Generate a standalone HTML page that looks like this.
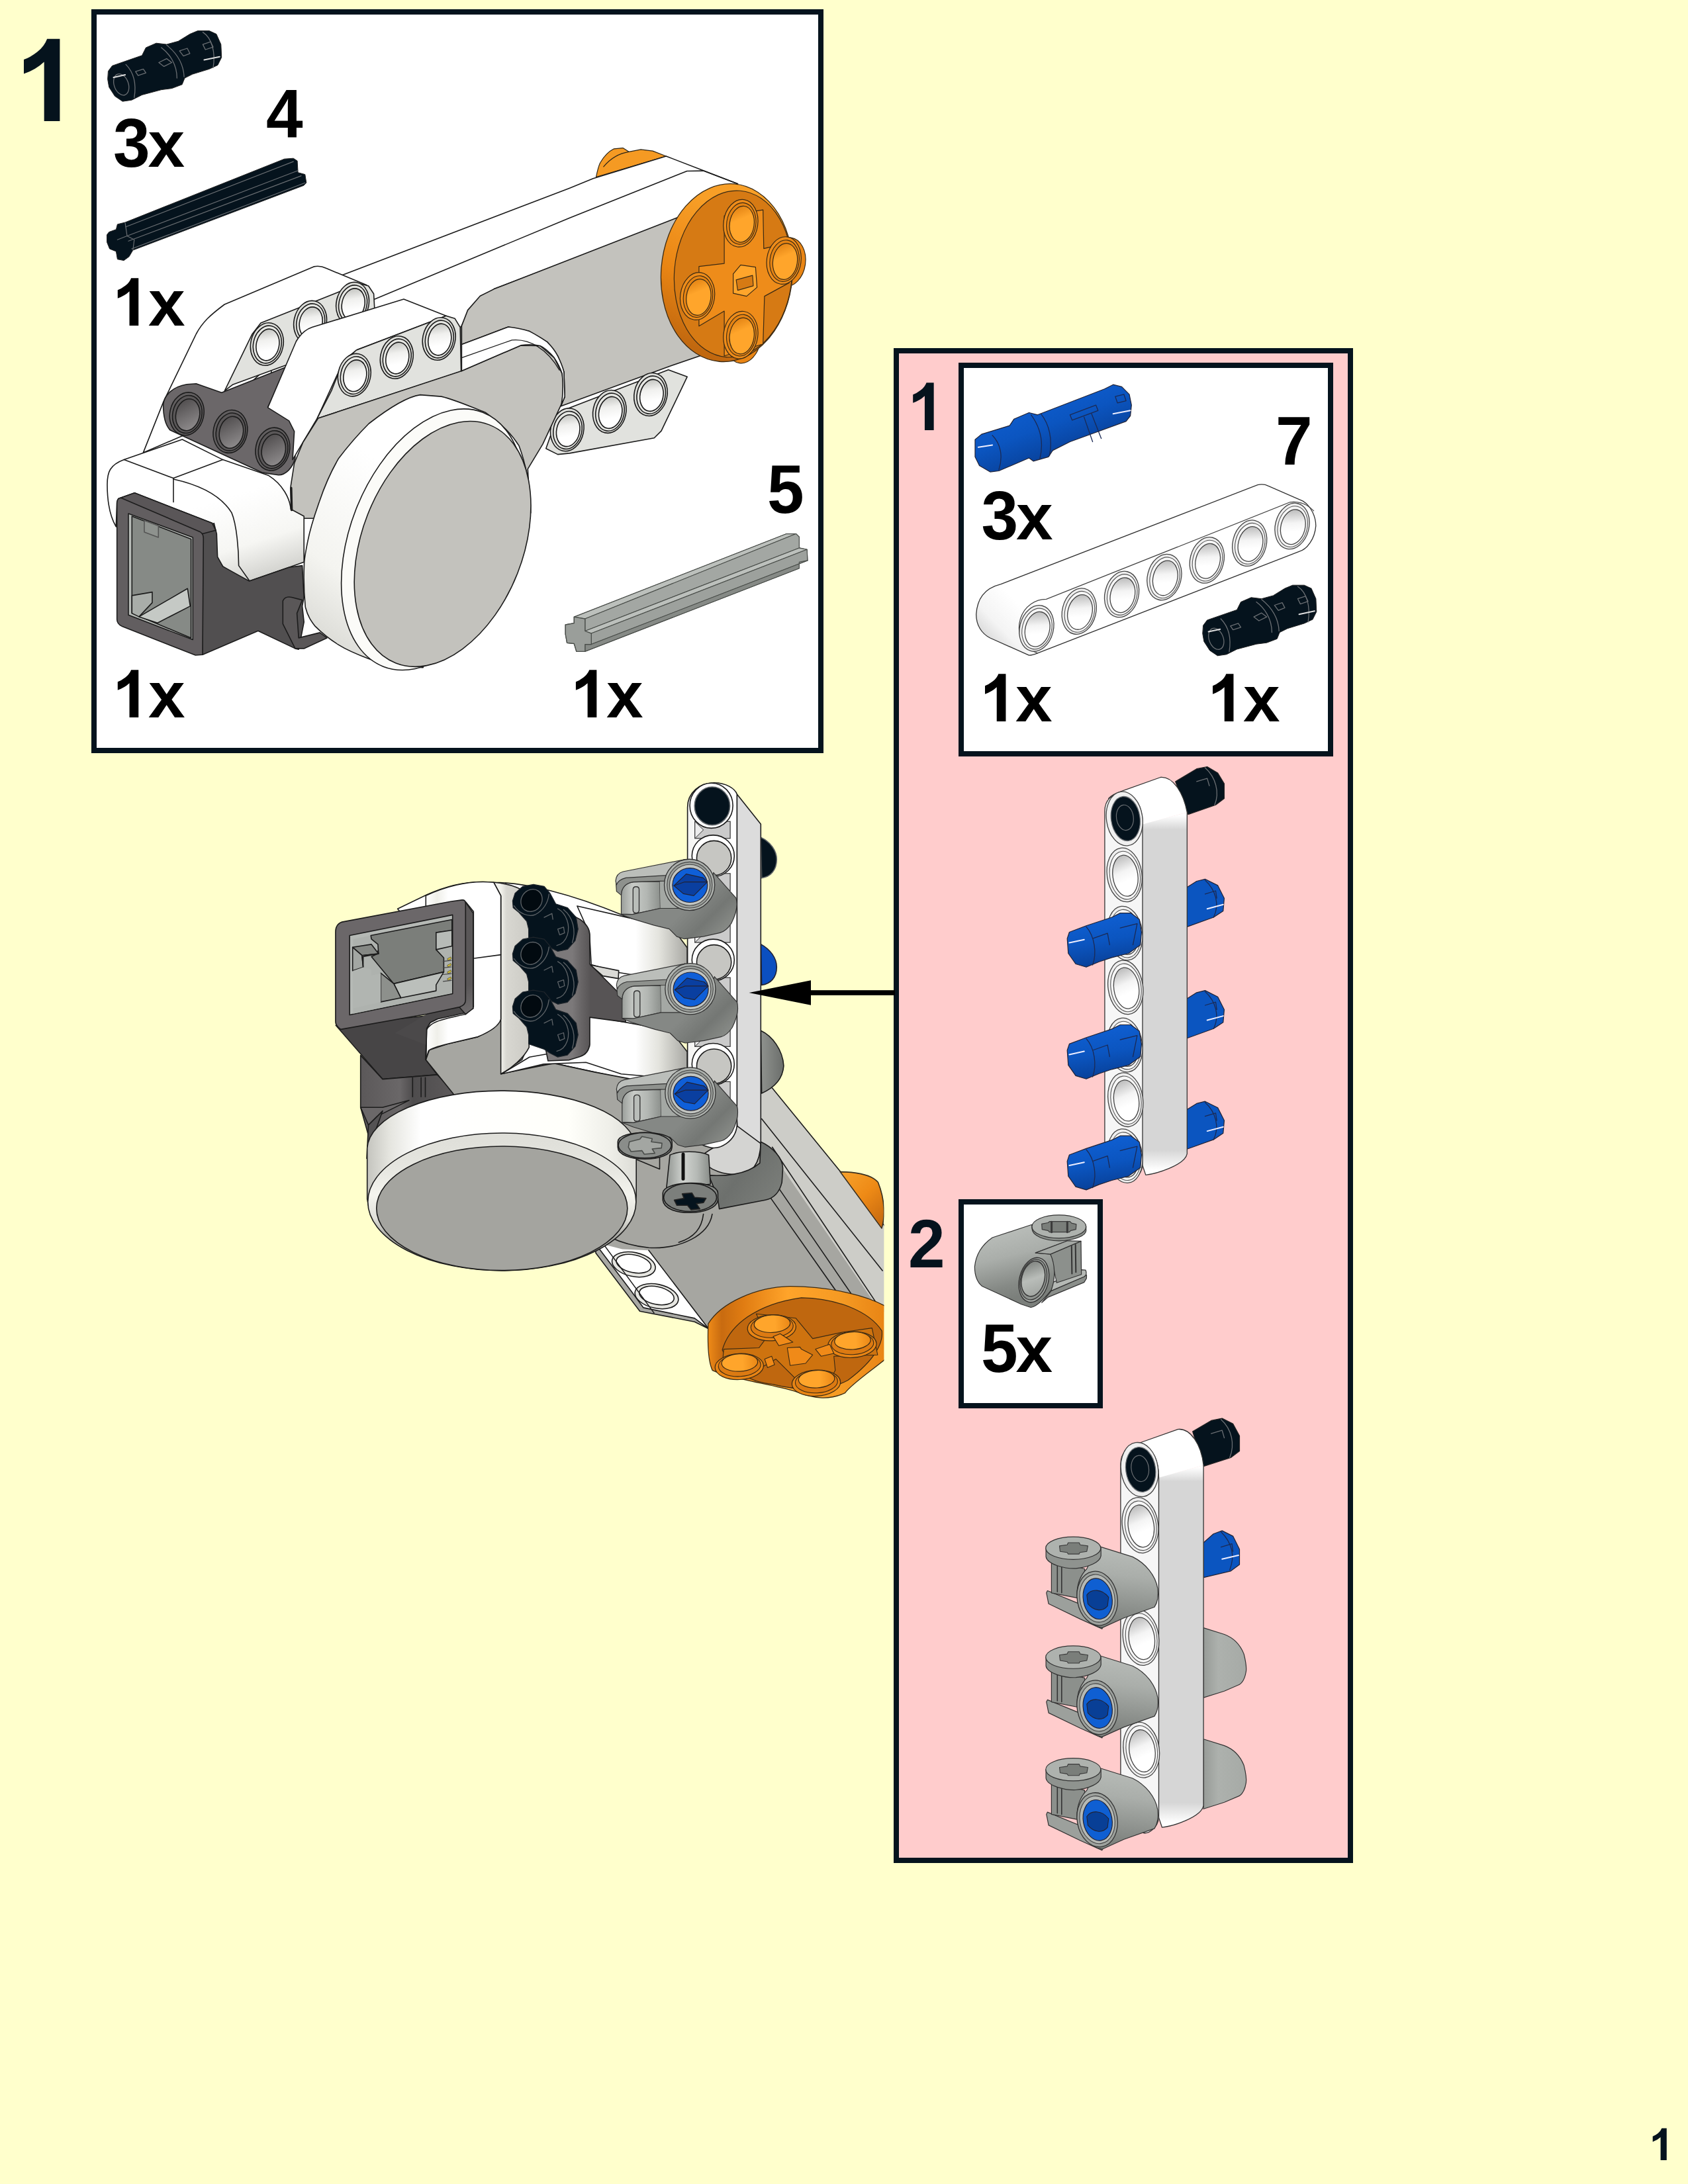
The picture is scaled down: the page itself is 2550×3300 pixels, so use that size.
<!DOCTYPE html>
<html><head><meta charset="utf-8">
<style>
html,body{margin:0;padding:0;background:#FFFFCC;}
svg{display:block}
text{font-family:"Liberation Sans",sans-serif;font-weight:bold}
</style></head><body>
<svg width="2550" height="3300" viewBox="0 0 2550 3300">
<defs>
<linearGradient id="cl2" gradientUnits="userSpaceOnUse" x1="544.7" y1="1300" x2="676.6" y2="1300"><stop offset="0" stop-color="#5B5859"/><stop offset="0.45" stop-color="#6A6768"/><stop offset="0.6" stop-color="#4E4C4D"/><stop offset="1" stop-color="#5B5859"/></linearGradient>
<linearGradient id="knob" gradientUnits="userSpaceOnUse" x1="1273.2" y1="1773.3" x2="1337.2" y2="1839.9"><stop offset="0" stop-color="#F6A02A"/><stop offset="0.5" stop-color="#EE8A16"/><stop offset="1" stop-color="#C96C10"/></linearGradient>
<linearGradient id="hubside" gradientUnits="userSpaceOnUse" x1="1068.8" y1="1900" x2="1338.6" y2="1900"><stop offset="0" stop-color="#F08C18"/><stop offset="0.08" stop-color="#C86B10"/><stop offset="0.2" stop-color="#E07C12"/><stop offset="0.45" stop-color="#FFA42A"/><stop offset="0.75" stop-color="#F59A23"/><stop offset="1" stop-color="#E88414"/></linearGradient>
<linearGradient id="hs590470" gradientUnits="userSpaceOnUse" x1="1140.2" y1="2000.2" x2="1191.4" y2="2000.2"><stop offset="0" stop-color="#FFA52B"/><stop offset="0.6" stop-color="#FFA52B"/><stop offset="1" stop-color="#EC8A18"/></linearGradient>
<linearGradient id="hs1160590" gradientUnits="userSpaceOnUse" x1="1261.8" y1="2025.8" x2="1313" y2="2025.8"><stop offset="0" stop-color="#FFA52B"/><stop offset="0.6" stop-color="#FFA52B"/><stop offset="1" stop-color="#EC8A18"/></linearGradient>
<linearGradient id="hs360745" gradientUnits="userSpaceOnUse" x1="1091.2" y1="2058.9" x2="1142.4" y2="2058.9"><stop offset="0" stop-color="#FFA52B"/><stop offset="0.6" stop-color="#FFA52B"/><stop offset="1" stop-color="#EC8A18"/></linearGradient>
<linearGradient id="hs905862" gradientUnits="userSpaceOnUse" x1="1207.4" y1="2083.8" x2="1258.6" y2="2083.8"><stop offset="0" stop-color="#FFA52B"/><stop offset="0.6" stop-color="#FFA52B"/><stop offset="1" stop-color="#EC8A18"/></linearGradient>
<linearGradient id="cylg" gradientUnits="userSpaceOnUse" x1="554.7" y1="1620" x2="961.2" y2="1620"><stop offset="0" stop-color="#C4C4BE"/><stop offset="0.08" stop-color="#E4E4DE"/><stop offset="0.2" stop-color="#FFFFFF"/><stop offset="0.75" stop-color="#FFFFFA"/><stop offset="0.9" stop-color="#EFEFE9"/><stop offset="1" stop-color="#DCDCD6"/></linearGradient>
<linearGradient id="rimg" gradientUnits="userSpaceOnUse" x1="540" y1="1712" x2="540" y2="1919.9"><stop offset="0" stop-color="#DEDED8"/><stop offset="0.25" stop-color="#E6E6E0"/><stop offset="0.45" stop-color="#F4F4EE"/><stop offset="0.62" stop-color="#E0E0DA"/><stop offset="0.75" stop-color="#A8A8A3"/><stop offset="1" stop-color="#A6A6A1"/></linearGradient>
<linearGradient id="wbside" gradientUnits="userSpaceOnUse" x1="756.6" y1="1300" x2="799.2" y2="1300"><stop offset="0" stop-color="#F2F2EC"/><stop offset="0.2" stop-color="#D8D7D1"/><stop offset="1" stop-color="#CCCBC5"/></linearGradient>
<linearGradient id="wbfront" gradientUnits="userSpaceOnUse" x1="643.3" y1="1300" x2="756.6" y2="1300"><stop offset="0" stop-color="#FFFFFF"/><stop offset="0.15" stop-color="#EFEFE9"/><stop offset="0.3" stop-color="#FFFFFF"/><stop offset="1" stop-color="#FFFFFF"/></linearGradient>
<linearGradient id="arm1" gradientUnits="userSpaceOnUse" x1="959.9" y1="1160" x2="1037.2" y2="1160"><stop offset="0" stop-color="#FFFFFF"/><stop offset="0.45" stop-color="#E4E4DE"/><stop offset="1" stop-color="#A9A9A4"/></linearGradient>
<linearGradient id="arm2" gradientUnits="userSpaceOnUse" x1="959.9" y1="1160" x2="1037.2" y2="1160"><stop offset="0" stop-color="#FFFFFF"/><stop offset="0.45" stop-color="#E4E4DE"/><stop offset="1" stop-color="#A9A9A4"/></linearGradient>
<linearGradient id="dbm" gradientUnits="userSpaceOnUse" x1="864.5" y1="1310" x2="892.4" y2="1310"><stop offset="0" stop-color="#7C797A"/><stop offset="0.4" stop-color="#6B6869"/><stop offset="1" stop-color="#575455"/></linearGradient>
<linearGradient id="cfs" gradientUnits="userSpaceOnUse" x1="703.3" y1="1490" x2="714.8" y2="1525.5"><stop offset="0" stop-color="#5A5758"/><stop offset="1" stop-color="#6E6B6C"/></linearGradient>
<linearGradient id="prot" gradientUnits="userSpaceOnUse" x1="1149.3" y1="1160" x2="1183.9" y2="1160"><stop offset="0" stop-color="#8F928E"/><stop offset="1" stop-color="#6B6E6B"/></linearGradient>
<linearGradient id="b7f" gradientUnits="userSpaceOnUse" x1="1038.6" y1="1160" x2="1113.3" y2="1160"><stop offset="0" stop-color="#F4F4F2"/><stop offset="0.5" stop-color="#FFFFFF"/><stop offset="1" stop-color="#FFFFFF"/></linearGradient>
<linearGradient id="cna0_0" gradientUnits="userSpaceOnUse" x1="938.5" y1="1290" x2="997.5" y2="1290"><stop offset="0" stop-color="#9A9E9A"/><stop offset="0.3" stop-color="#C8CBC7"/><stop offset="0.65" stop-color="#B3B7B3"/><stop offset="1" stop-color="#8C908C"/></linearGradient>
<linearGradient id="cnb0_0" gradientUnits="userSpaceOnUse" x1="1048" y1="1361.1" x2="1097.7" y2="1410.9"><stop offset="0" stop-color="#858885"/><stop offset="0.5" stop-color="#747774"/><stop offset="1" stop-color="#8B8E8A"/></linearGradient>
<linearGradient id="cna5_590" gradientUnits="userSpaceOnUse" x1="939.8" y1="1290" x2="998.8" y2="1290"><stop offset="0" stop-color="#9A9E9A"/><stop offset="0.3" stop-color="#C8CBC7"/><stop offset="0.65" stop-color="#B3B7B3"/><stop offset="1" stop-color="#8C908C"/></linearGradient>
<linearGradient id="cnb5_590" gradientUnits="userSpaceOnUse" x1="1049.3" y1="1518.4" x2="1099.1" y2="1568.1"><stop offset="0" stop-color="#858885"/><stop offset="0.5" stop-color="#747774"/><stop offset="1" stop-color="#8B8E8A"/></linearGradient>
<linearGradient id="cna5_1180" gradientUnits="userSpaceOnUse" x1="939.8" y1="1290" x2="998.8" y2="1290"><stop offset="0" stop-color="#9A9E9A"/><stop offset="0.3" stop-color="#C8CBC7"/><stop offset="0.65" stop-color="#B3B7B3"/><stop offset="1" stop-color="#8C908C"/></linearGradient>
<linearGradient id="cnb5_1180" gradientUnits="userSpaceOnUse" x1="1049.3" y1="1675.7" x2="1099.1" y2="1725.4"><stop offset="0" stop-color="#858885"/><stop offset="0.5" stop-color="#747774"/><stop offset="1" stop-color="#8B8E8A"/></linearGradient>
<linearGradient id="c5b" gradientUnits="userSpaceOnUse" x1="1070.6" y1="1738.6" x2="1166.6" y2="1813.3"><stop offset="0" stop-color="#7E817D"/><stop offset="0.5" stop-color="#6D706D"/><stop offset="1" stop-color="#7A7D79"/></linearGradient>
<linearGradient id="c5c" gradientUnits="userSpaceOnUse" x1="1012" y1="1600" x2="1070.6" y2="1600"><stop offset="0" stop-color="#9EA29E"/><stop offset="0.35" stop-color="#D0D3CF"/><stop offset="0.7" stop-color="#B5B9B5"/><stop offset="1" stop-color="#8E928E"/></linearGradient>
<linearGradient id="phs" gradientUnits="userSpaceOnUse" x1="1017.6" y1="515.2" x2="1085.1" y2="312.6"><stop offset="0" stop-color="#C1680F"/><stop offset="0.45" stop-color="#E98514"/><stop offset="1" stop-color="#F89F27"/></linearGradient>
<linearGradient id="st1150610" gradientUnits="userSpaceOnUse" x1="1105.4" y1="314.8" x2="1132.4" y2="359.8"><stop offset="0" stop-color="#E08012"/><stop offset="0.4" stop-color="#FFA52B"/><stop offset="1" stop-color="#FFA52B"/></linearGradient>
<linearGradient id="st1440860" gradientUnits="userSpaceOnUse" x1="1170.7" y1="371.1" x2="1197.7" y2="416.1"><stop offset="0" stop-color="#E08012"/><stop offset="0.4" stop-color="#FFA52B"/><stop offset="1" stop-color="#FFA52B"/></linearGradient>
<linearGradient id="st8601100" gradientUnits="userSpaceOnUse" x1="1040.1" y1="425.1" x2="1067.1" y2="470.1"><stop offset="0" stop-color="#E08012"/><stop offset="0.4" stop-color="#FFA52B"/><stop offset="1" stop-color="#FFA52B"/></linearGradient>
<linearGradient id="st11501360" gradientUnits="userSpaceOnUse" x1="1105.4" y1="483.6" x2="1132.4" y2="528.7"><stop offset="0" stop-color="#E08012"/><stop offset="0.4" stop-color="#FFA52B"/><stop offset="1" stop-color="#FFA52B"/></linearGradient>
<linearGradient id="hl610195" gradientUnits="userSpaceOnUse" x1="849.4" y1="626.4" x2="861.8" y2="659.1"><stop offset="0" stop-color="#BFC0BC"/><stop offset="0.5" stop-color="#F0F0EE"/><stop offset="1" stop-color="#FFFFFF"/></linearGradient>
<linearGradient id="hl790118" gradientUnits="userSpaceOnUse" x1="913.3" y1="599.1" x2="925.8" y2="631.8"><stop offset="0" stop-color="#BFC0BC"/><stop offset="0.5" stop-color="#F0F0EE"/><stop offset="1" stop-color="#FFFFFF"/></linearGradient>
<linearGradient id="hl96545" gradientUnits="userSpaceOnUse" x1="975.5" y1="573.1" x2="988" y2="605.8"><stop offset="0" stop-color="#BFC0BC"/><stop offset="0.5" stop-color="#F0F0EE"/><stop offset="1" stop-color="#FFFFFF"/></linearGradient>
<linearGradient id="hl275525" gradientUnits="userSpaceOnUse" x1="396" y1="497.2" x2="408.2" y2="529.7"><stop offset="0" stop-color="#BFC0BC"/><stop offset="0.5" stop-color="#F0F0EE"/><stop offset="1" stop-color="#FFFFFF"/></linearGradient>
<linearGradient id="hl520400" gradientUnits="userSpaceOnUse" x1="461.3" y1="463.9" x2="473.5" y2="496.4"><stop offset="0" stop-color="#BFC0BC"/><stop offset="0.5" stop-color="#F0F0EE"/><stop offset="1" stop-color="#FFFFFF"/></linearGradient>
<linearGradient id="hl760295" gradientUnits="userSpaceOnUse" x1="525.2" y1="435.9" x2="537.5" y2="468.4"><stop offset="0" stop-color="#BFC0BC"/><stop offset="0.5" stop-color="#F0F0EE"/><stop offset="1" stop-color="#FFFFFF"/></linearGradient>
<linearGradient id="hd400690" gradientUnits="userSpaceOnUse" x1="266.8" y1="608.9" x2="297.5" y2="644.9"><stop offset="0" stop-color="#4F4C4D"/><stop offset="0.5" stop-color="#6F6C6D"/><stop offset="1" stop-color="#8E8B8C"/></linearGradient>
<linearGradient id="hd585765" gradientUnits="userSpaceOnUse" x1="332.6" y1="635.6" x2="363.3" y2="671.5"><stop offset="0" stop-color="#4F4C4D"/><stop offset="0.5" stop-color="#6F6C6D"/><stop offset="1" stop-color="#8E8B8C"/></linearGradient>
<linearGradient id="hd765840" gradientUnits="userSpaceOnUse" x1="396.6" y1="662.2" x2="427.3" y2="698.2"><stop offset="0" stop-color="#4F4C4D"/><stop offset="0.5" stop-color="#6F6C6D"/><stop offset="1" stop-color="#8E8B8C"/></linearGradient>
<linearGradient id="hl770700" gradientUnits="userSpaceOnUse" x1="527.9" y1="543.8" x2="540.2" y2="576.4"><stop offset="0" stop-color="#BFC0BC"/><stop offset="0.5" stop-color="#F0F0EE"/><stop offset="1" stop-color="#FFFFFF"/></linearGradient>
<linearGradient id="hl1010600" gradientUnits="userSpaceOnUse" x1="591.9" y1="517.2" x2="604.2" y2="549.7"><stop offset="0" stop-color="#BFC0BC"/><stop offset="0.5" stop-color="#F0F0EE"/><stop offset="1" stop-color="#FFFFFF"/></linearGradient>
<linearGradient id="hl1250495" gradientUnits="userSpaceOnUse" x1="655.9" y1="489.2" x2="668.1" y2="521.7"><stop offset="0" stop-color="#BFC0BC"/><stop offset="0.5" stop-color="#F0F0EE"/><stop offset="1" stop-color="#FFFFFF"/></linearGradient>
<linearGradient id="shell" gradientUnits="userSpaceOnUse" x1="336.6" y1="753.3" x2="376.6" y2="875.9"><stop offset="0" stop-color="#FFFFFF"/><stop offset="0.6" stop-color="#F6F6F3"/><stop offset="1" stop-color="#D4D4D0"/></linearGradient>
<linearGradient id="pdrum" gradientUnits="userSpaceOnUse" x1="461.3" y1="942.1" x2="617.7" y2="728.8"><stop offset="0" stop-color="#DDDDD8"/><stop offset="0.35" stop-color="#F4F4F0"/><stop offset="1" stop-color="#FFFFFF"/></linearGradient>
<linearGradient id="bp1" gradientUnits="userSpaceOnUse" x1="1557.7" y1="592.6" x2="1596.8" y2="696.8"><stop offset="0" stop-color="#0F5FD2"/><stop offset="0.5" stop-color="#0B55C0"/><stop offset="1" stop-color="#083F96"/></linearGradient>
<linearGradient id="b7p" gradientUnits="userSpaceOnUse" x1="1479.5" y1="980.3" x2="1544.7" y2="918.4"><stop offset="0" stop-color="#C9C9C9"/><stop offset="0.5" stop-color="#F4F4F4"/><stop offset="1" stop-color="#FFFFFF"/></linearGradient>
<linearGradient id="rg3251195" gradientUnits="userSpaceOnUse" x1="1563.4" y1="924.7" x2="1573.5" y2="956.4"><stop offset="0" stop-color="#BDBDBD"/><stop offset="0.6" stop-color="#F4F4F4"/><stop offset="1" stop-color="#FFFFFF"/></linearGradient>
<linearGradient id="rg5221116" gradientUnits="userSpaceOnUse" x1="1627.7" y1="899" x2="1637.9" y2="930.7"><stop offset="0" stop-color="#BDBDBD"/><stop offset="0.6" stop-color="#F4F4F4"/><stop offset="1" stop-color="#FFFFFF"/></linearGradient>
<linearGradient id="rg7201037" gradientUnits="userSpaceOnUse" x1="1692.1" y1="873.3" x2="1702.2" y2="904.9"><stop offset="0" stop-color="#BDBDBD"/><stop offset="0.6" stop-color="#F4F4F4"/><stop offset="1" stop-color="#FFFFFF"/></linearGradient>
<linearGradient id="rg917958" gradientUnits="userSpaceOnUse" x1="1756.4" y1="847.5" x2="1766.6" y2="879.2"><stop offset="0" stop-color="#BDBDBD"/><stop offset="0.6" stop-color="#F4F4F4"/><stop offset="1" stop-color="#FFFFFF"/></linearGradient>
<linearGradient id="rg1115879" gradientUnits="userSpaceOnUse" x1="1820.8" y1="821.8" x2="1830.9" y2="853.4"><stop offset="0" stop-color="#BDBDBD"/><stop offset="0.6" stop-color="#F4F4F4"/><stop offset="1" stop-color="#FFFFFF"/></linearGradient>
<linearGradient id="rg1312800" gradientUnits="userSpaceOnUse" x1="1885.1" y1="796" x2="1895.3" y2="827.7"><stop offset="0" stop-color="#BDBDBD"/><stop offset="0.6" stop-color="#F4F4F4"/><stop offset="1" stop-color="#FFFFFF"/></linearGradient>
<linearGradient id="rg1510721" gradientUnits="userSpaceOnUse" x1="1949.5" y1="770.3" x2="1959.6" y2="802"><stop offset="0" stop-color="#BDBDBD"/><stop offset="0.6" stop-color="#F4F4F4"/><stop offset="1" stop-color="#FFFFFF"/></linearGradient>
<linearGradient id="cb1" gradientUnits="userSpaceOnUse" x1="1507.4" y1="1866.5" x2="1531.1" y2="1961.3"><stop offset="0" stop-color="#B7BBB7"/><stop offset="0.35" stop-color="#AAAEAA"/><stop offset="0.8" stop-color="#858985"/><stop offset="1" stop-color="#7B7F7B"/></linearGradient>
<linearGradient id="cbh" gradientUnits="userSpaceOnUse" x1="1550" y1="1913.9" x2="1573.7" y2="1949.4"><stop offset="0" stop-color="#8A8E8A"/><stop offset="0.5" stop-color="#B9BDB9"/><stop offset="1" stop-color="#A5A9A5"/></linearGradient>
<linearGradient id="bv1s" gradientUnits="userSpaceOnUse" x1="1500" y1="1174.5" x2="1500" y2="1780.3"><stop offset="0" stop-color="#FFFFFF"/><stop offset="0.095" stop-color="#FFFFFF"/><stop offset="0.13" stop-color="#D6D6D6"/><stop offset="0.93" stop-color="#D6D6D6"/><stop offset="0.98" stop-color="#FFFFFF"/><stop offset="1" stop-color="#FFFFFF"/></linearGradient>
<linearGradient id="rg620630" gradientUnits="userSpaceOnUse" x1="1696.1" y1="1293.2" x2="1706.6" y2="1330.1"><stop offset="0" stop-color="#BDBDBD"/><stop offset="0.6" stop-color="#F4F4F4"/><stop offset="1" stop-color="#FFFFFF"/></linearGradient>
<linearGradient id="rg6251160" gradientUnits="userSpaceOnUse" x1="1697.7" y1="1463.1" x2="1708.2" y2="1500"><stop offset="0" stop-color="#BDBDBD"/><stop offset="0.6" stop-color="#F4F4F4"/><stop offset="1" stop-color="#FFFFFF"/></linearGradient>
<linearGradient id="rg6251690" gradientUnits="userSpaceOnUse" x1="1697.7" y1="1632.9" x2="1708.2" y2="1669.9"><stop offset="0" stop-color="#BDBDBD"/><stop offset="0.6" stop-color="#F4F4F4"/><stop offset="1" stop-color="#FFFFFF"/></linearGradient>
<linearGradient id="rg622905" gradientUnits="userSpaceOnUse" x1="1696.7" y1="1381.3" x2="1707.2" y2="1418.3"><stop offset="0" stop-color="#BDBDBD"/><stop offset="0.6" stop-color="#F4F4F4"/><stop offset="1" stop-color="#FFFFFF"/></linearGradient>
<linearGradient id="bl0" gradientUnits="userSpaceOnUse" x1="1660.3" y1="1382.8" x2="1673.1" y2="1459.7"><stop offset="0" stop-color="#0F5FD2"/><stop offset="0.5" stop-color="#0B55C0"/><stop offset="1" stop-color="#083F96"/></linearGradient>
<linearGradient id="rg6221432" gradientUnits="userSpaceOnUse" x1="1696.7" y1="1550.3" x2="1707.2" y2="1587.2"><stop offset="0" stop-color="#BDBDBD"/><stop offset="0.6" stop-color="#F4F4F4"/><stop offset="1" stop-color="#FFFFFF"/></linearGradient>
<linearGradient id="bl527" gradientUnits="userSpaceOnUse" x1="1660.3" y1="1551.7" x2="1673.1" y2="1628.7"><stop offset="0" stop-color="#0F5FD2"/><stop offset="0.5" stop-color="#0B55C0"/><stop offset="1" stop-color="#083F96"/></linearGradient>
<linearGradient id="rg6221955" gradientUnits="userSpaceOnUse" x1="1696.7" y1="1717.9" x2="1707.2" y2="1754.8"><stop offset="0" stop-color="#BDBDBD"/><stop offset="0.6" stop-color="#F4F4F4"/><stop offset="1" stop-color="#FFFFFF"/></linearGradient>
<linearGradient id="bl1050" gradientUnits="userSpaceOnUse" x1="1660.3" y1="1719.4" x2="1673.1" y2="1796.3"><stop offset="0" stop-color="#0F5FD2"/><stop offset="0.5" stop-color="#0B55C0"/><stop offset="1" stop-color="#083F96"/></linearGradient>
<linearGradient id="cr0" gradientUnits="userSpaceOnUse" x1="1818.1" y1="2120" x2="1882.4" y2="2120"><stop offset="0" stop-color="#979B97"/><stop offset="0.35" stop-color="#ADB1AD"/><stop offset="1" stop-color="#A6AAA6"/></linearGradient>
<linearGradient id="cr510" gradientUnits="userSpaceOnUse" x1="1818.1" y1="2120" x2="1882.4" y2="2120"><stop offset="0" stop-color="#979B97"/><stop offset="0.35" stop-color="#ADB1AD"/><stop offset="1" stop-color="#A6AAA6"/></linearGradient>
<linearGradient id="bv2s" gradientUnits="userSpaceOnUse" x1="1500" y1="2159.6" x2="1500" y2="2766.2"><stop offset="0" stop-color="#FFFFFF"/><stop offset="0.095" stop-color="#FFFFFF"/><stop offset="0.13" stop-color="#D6D6D6"/><stop offset="0.93" stop-color="#D6D6D6"/><stop offset="0.98" stop-color="#FFFFFF"/><stop offset="1" stop-color="#FFFFFF"/></linearGradient>
<linearGradient id="rg675560" gradientUnits="userSpaceOnUse" x1="1719.8" y1="2275.1" x2="1730.6" y2="2313.1"><stop offset="0" stop-color="#BDBDBD"/><stop offset="0.6" stop-color="#F4F4F4"/><stop offset="1" stop-color="#FFFFFF"/></linearGradient>
<linearGradient id="rg6781075" gradientUnits="userSpaceOnUse" x1="1720.8" y1="2444.9" x2="1731.6" y2="2482.8"><stop offset="0" stop-color="#BDBDBD"/><stop offset="0.6" stop-color="#F4F4F4"/><stop offset="1" stop-color="#FFFFFF"/></linearGradient>
<linearGradient id="rg6801590" gradientUnits="userSpaceOnUse" x1="1721.5" y1="2614.6" x2="1732.3" y2="2652.6"><stop offset="0" stop-color="#BDBDBD"/><stop offset="0.6" stop-color="#F4F4F4"/><stop offset="1" stop-color="#FFFFFF"/></linearGradient>
<linearGradient id="cl0" gradientUnits="userSpaceOnUse" x1="1697.8" y1="2334.3" x2="1684.6" y2="2449.7"><stop offset="0" stop-color="#B9BDB9"/><stop offset="0.4" stop-color="#AAAEAA"/><stop offset="1" stop-color="#7E827E"/></linearGradient>
<linearGradient id="cl500" gradientUnits="userSpaceOnUse" x1="1697.8" y1="2499.1" x2="1684.6" y2="2614.5"><stop offset="0" stop-color="#B9BDB9"/><stop offset="0.4" stop-color="#AAAEAA"/><stop offset="1" stop-color="#7E827E"/></linearGradient>
<linearGradient id="cl1015" gradientUnits="userSpaceOnUse" x1="1697.8" y1="2668.9" x2="1684.6" y2="2784.3"><stop offset="0" stop-color="#B9BDB9"/><stop offset="0.4" stop-color="#AAAEAA"/><stop offset="1" stop-color="#7E827E"/></linearGradient>
</defs>
<rect width="2550" height="3300" fill="#FFFFCC"/>
<rect x="142" y="18" width="1098" height="1116" fill="#FFFFFF" stroke="#05131D" stroke-width="8"/>
<rect x="1354" y="530" width="686" height="2281" fill="#FFCCCC" stroke="#05131D" stroke-width="8"/>
<rect x="1452" y="552" width="558" height="587" fill="#FFFFFF" stroke="#05131D" stroke-width="8"/>
<rect x="1452" y="1816" width="210" height="308" fill="#FFFFFF" stroke="#05131D" stroke-width="8"/>
<clipPath id="clipMain"><rect x="495" y="1175" width="840.4" height="945"/></clipPath>
<g clip-path="url(#clipMain)">
<polygon points="507.3,1549.3 703.3,1528.7 715.3,1518.6 715.3,1522.6 703.3,1532.5 660.6,1541.3 644.6,1555.9 643.3,1601.2 660.6,1623.9 578,1630.6" fill="#474546" stroke="#1c1c1c" stroke-width="1.6" stroke-linejoin="round" />
<polygon points="544.7,1594.6 578,1630.6 660.6,1623.9 692.6,1657.2 623.3,1683.9 578,1699.9 556.6,1715.9 544.7,1673.2" fill="url(#cl2)" stroke="#1c1c1c" stroke-width="1.6" stroke-linejoin="round" />
<line x1="623.3" y1="1628.4" x2="623.3" y2="1657.2" stroke="#1c1c1c" stroke-width="1.6" stroke-linecap="round"/>
<line x1="636.1" y1="1628.4" x2="636.1" y2="1657.2" stroke="#1c1c1c" stroke-width="1.6" stroke-linecap="round"/>
<line x1="642.5" y1="1628.4" x2="642.5" y2="1657.2" stroke="#1c1c1c" stroke-width="1.6" stroke-linecap="round"/>
<polygon points="544.7,1673.2 578,1673.2 618,1662.6 570,1686.6 556.6,1699.9" fill="#6B6869" stroke="#1c1c1c" stroke-width="1.6" stroke-linejoin="round" />
<polygon points="556.6,1699.9 570,1686.6 578,1678.6 564.6,1715.9 554,1750.5" fill="#545253" stroke="#1c1c1c" stroke-width="1.6" stroke-linejoin="round" />
<polygon points="886.7,1866.6 980,1866.6 1086.6,2007.9 1070.6,2007.9 1049.3,1994.5 972,1978.6 953.3,1954.6 900,1890.6" fill="#FFFFFF" stroke="#1c1c1c" stroke-width="1.6" stroke-linejoin="round" />
<polygon points="900,1879.9 953.3,1950.6 972,1975.9 1049.3,1991.9 1070.6,2007.9 1049.3,1997.2 966.6,1981.2 900,1893.2" fill="#A9A9A4" stroke="#1c1c1c" stroke-width="1.6" stroke-linejoin="round" />
<ellipse cx="957.3" cy="1910.6" rx="33.32" ry="18.13" fill="#E6E6E1" stroke="#1c1c1c" stroke-width="1.6" transform="rotate(12 957.3 1910.6)" />
<ellipse cx="957.3" cy="1909.5" rx="26.66" ry="13.33" fill="#FFFFFF" stroke="#1c1c1c" stroke-width="1.6" transform="rotate(12 957.3 1909.5)" />
<ellipse cx="992" cy="1958.6" rx="33.32" ry="18.13" fill="#E6E6E1" stroke="#1c1c1c" stroke-width="1.6" transform="rotate(12 992 1958.6)" />
<ellipse cx="992" cy="1957.5" rx="26.66" ry="13.33" fill="#FFFFFF" stroke="#1c1c1c" stroke-width="1.6" transform="rotate(12 992 1957.5)" />
<line x1="910.7" y1="1878.6" x2="988" y2="1983.9" stroke="#1c1c1c" stroke-width="1.6" stroke-linecap="round"/>
<polygon points="900,1616 1166.6,1616 1166.6,1728 1326.5,1967.9 1315.9,1983.9 1070.6,2007.9 980,1889.2 940,1887.4 900,1877.3" fill="#A6A6A1" stroke="#1c1c1c" stroke-width="0" stroke-linejoin="round" />
<polygon points="1147.9,1650.7 1166.6,1644 1337.2,1851.9 1337.2,1983.9 1321.2,1969.2 1163.9,1738.6 1147.9,1728" fill="#CDCDC8" stroke="#1c1c1c" stroke-width="0" stroke-linejoin="round" />
<line x1="1166.6" y1="1644" x2="1337.2" y2="1853.3" stroke="#1c1c1c" stroke-width="1.6" stroke-linecap="round"/>
<line x1="1150.6" y1="1690.6" x2="1333.2" y2="1919.9" stroke="#1c1c1c" stroke-width="1.6" stroke-linecap="round"/>
<line x1="1166.6" y1="1733.3" x2="1322.5" y2="1966.6" stroke="#1c1c1c" stroke-width="1.6" stroke-linecap="round"/>
<line x1="1175.9" y1="1794.6" x2="1286.6" y2="1955.9" stroke="#1c1c1c" stroke-width="1.6" stroke-linecap="round"/>
<line x1="1162.6" y1="1807.9" x2="1273.2" y2="1965.2" stroke="#1c1c1c" stroke-width="1.6" stroke-linecap="round"/>
<line x1="980" y1="1889.2" x2="1070.6" y2="2007.9" stroke="#1c1c1c" stroke-width="1.6" stroke-linecap="round"/>
<path d="M 1075.9,1834.6 C 1070.6,1866.6 1028,1887.9 980,1885.2 C 953.3,1882.6 932,1874.6 921.3,1869.3" fill="none" stroke="#1c1c1c" stroke-width="1.6" stroke-linejoin="round" stroke-linecap="round" />
<path d="M 1062.6,1834.6 C 1060,1855.9 1049.3,1869.3 1025.3,1877.3" fill="none" stroke="#1c1c1c" stroke-width="1.6" stroke-linejoin="round" stroke-linecap="round" />
<path d="M 1269.2,1770.6 C 1286.6,1770.6 1315.9,1773.3 1326.5,1786.6 C 1337.2,1813.3 1337.2,1839.9 1331.9,1855.9 L 1269.2,1770.6 Z" fill="url(#knob)" stroke="#3a3020" stroke-width="1.6" stroke-linejoin="round" stroke-linecap="round" />
<path d="M 1069.9,2000.2 C 1089.1,1968.2 1142.4,1944.8 1193.6,1943.7 C 1253.3,1943.7 1313,1957.6 1342.8,1976.8 L 1342.8,2049.3 C 1317.3,2070.6 1285.3,2091.9 1276.7,2104.7 C 1253.3,2115.4 1231.9,2114.3 1202.1,2102.6 C 1168,2091.9 1104,2083.4 1076.3,2070.6 C 1069.9,2057.8 1068.8,2028 1069.9,2000.2 Z" fill="url(#hubside)" stroke="#3a2a14" stroke-width="1.3" stroke-linejoin="round" stroke-linecap="round" />
<path d="M 1091.2,2039.7 C 1101.8,2002.4 1142.4,1970.4 1210.6,1960.8 C 1263.9,1961.8 1313,1981 1332.2,2010.9 C 1334.3,2028 1323.6,2053.6 1281,2085.5 C 1253.3,2100.5 1210.6,2102.6 1168,2091.9 C 1129.6,2087.7 1104,2070.6 1091.2,2039.7 Z" fill="#BF670F" stroke="#3a2a14" stroke-width="1.2" stroke-linejoin="round" stroke-linecap="round" />
<path d="M 1142.4,1985.3 L 1202.1,1991.7 L 1227.7,2022.6 L 1272.5,2013 L 1317.3,2006.6 L 1325.8,2047.2 L 1259.7,2049.3 L 1261.8,2070.6 L 1244.7,2102.6 L 1202.1,2083.4 L 1172.2,2053.6 L 1146.6,2068.5 L 1091.2,2062.1 L 1093.3,2038.6 L 1146.6,2036.5 L 1159.4,2019.4 Z" fill="#CE730F" stroke="#3a2a14" stroke-width="1.1" stroke-linejoin="round" stroke-linecap="round" />
<ellipse cx="1165.8" cy="2006.2" rx="36.68" ry="19.62" fill="#E88414" stroke="#3a2a14" stroke-width="1.2" transform="rotate(-3 1165.8 2006.2)" />
<ellipse cx="1166.3" cy="2004.5" rx="31.99" ry="16.64" fill="#DC7A12" stroke="#3a2a14" stroke-width="1.1" transform="rotate(-3 1166.3 2004.5)" />
<ellipse cx="1166.5" cy="2000.2" rx="27.3" ry="13.22" fill="url(#hs590470)" stroke="#3a2a14" stroke-width="1.2" transform="rotate(-3 1166.5 2000.2)" />
<ellipse cx="1287.4" cy="2031.8" rx="36.68" ry="19.62" fill="#E88414" stroke="#3a2a14" stroke-width="1.2" transform="rotate(-3 1287.4 2031.8)" />
<ellipse cx="1287.8" cy="2030.1" rx="31.99" ry="16.64" fill="#DC7A12" stroke="#3a2a14" stroke-width="1.1" transform="rotate(-3 1287.8 2030.1)" />
<ellipse cx="1288" cy="2025.8" rx="27.3" ry="13.22" fill="url(#hs1160590)" stroke="#3a2a14" stroke-width="1.2" transform="rotate(-3 1288 2025.8)" />
<ellipse cx="1116.8" cy="2064.9" rx="36.68" ry="19.62" fill="#E88414" stroke="#3a2a14" stroke-width="1.2" transform="rotate(-3 1116.8 2064.9)" />
<ellipse cx="1117.2" cy="2063.2" rx="31.99" ry="16.64" fill="#DC7A12" stroke="#3a2a14" stroke-width="1.1" transform="rotate(-3 1117.2 2063.2)" />
<ellipse cx="1117.4" cy="2058.9" rx="27.3" ry="13.22" fill="url(#hs360745)" stroke="#3a2a14" stroke-width="1.2" transform="rotate(-3 1117.4 2058.9)" />
<ellipse cx="1233" cy="2089.8" rx="36.68" ry="19.62" fill="#E88414" stroke="#3a2a14" stroke-width="1.2" transform="rotate(-3 1233 2089.8)" />
<ellipse cx="1233.4" cy="2088.1" rx="31.99" ry="16.64" fill="#DC7A12" stroke="#3a2a14" stroke-width="1.1" transform="rotate(-3 1233.4 2088.1)" />
<ellipse cx="1233.6" cy="2083.8" rx="27.3" ry="13.22" fill="url(#hs905862)" stroke="#3a2a14" stroke-width="1.2" transform="rotate(-3 1233.6 2083.8)" />
<polygon points="1189.3,2036.5 1208.5,2035.4 1210.6,2038.6 1227.7,2047.2 1217,2060 1193.6,2063.2" fill="#F08A18" stroke="#3a2a14" stroke-width="1.1" stroke-linejoin="round" />
<polygon points="1168,2019.4 1178.6,2015.2 1197.8,2028 1176.5,2033.3" fill="#F08A18" stroke="#3a2a14" stroke-width="1.1" stroke-linejoin="round" />
<polygon points="1231.9,2038.6 1253.3,2031.2 1259.7,2045 1240.5,2049.3" fill="#F08A18" stroke="#3a2a14" stroke-width="1.1" stroke-linejoin="round" />
<polygon points="1155.2,2053.6 1165.8,2049.3 1170.1,2062.1 1159.4,2066.4" fill="#F08A18" stroke="#3a2a14" stroke-width="1.1" stroke-linejoin="round" />
<path d="M 600.6,1373.3 L 644.6,1352 C 676.6,1337.3 711.3,1329.9 745.9,1333.3 C 793.9,1333.3 863.2,1350.7 940,1382.6 L 996.5,1412 L 996.5,1641.2 L 897.9,1619.9 L 836.6,1606.6 L 756.6,1622.6 L 643.3,1601.2 L 644.1,1554.6 L 650,1545.3 L 660.6,1539.9 L 676.6,1460 Z" fill="#FFFFFF" stroke="#1c1c1c" stroke-width="1.6" stroke-linejoin="round" stroke-linecap="round" />
<polygon points="643.3,1601.2 648.6,1586.6 676.6,1577.3 721.9,1566.6 745.9,1553.3 756.6,1539.9 796.6,1582.6 788.6,1601.2 756.6,1622.6 836.6,1606.6 897.9,1619.9 996.5,1638.6 996.5,1766.5 836.6,1699.9 756.6,1678.6 695.3,1678.6 684.6,1652.4" fill="#A6A6A1" stroke="#1c1c1c" stroke-width="1.6" stroke-linejoin="round" />
<path d="M 554.7,1734.6 L 554.7,1811.9 A 203.41,103.97 0 0 0 961.2,1806.6 L 961.2,1733.3 A 203.41,89.31 0 0 0 554.7,1734.6 Z" fill="url(#cylg)" stroke="#1c1c1c" stroke-width="1.6" stroke-linejoin="round" stroke-linecap="round" />
<ellipse cx="758.3" cy="1815.9" rx="202.61" ry="103.97" fill="url(#rimg)" stroke="#1c1c1c" stroke-width="1.6" />
<ellipse cx="758.3" cy="1825.8" rx="189.54" ry="93.84" fill="#A4A49F" stroke="#1c1c1c" stroke-width="1.6" />
<path d="M 745.9,1333.3 C 767.3,1334.7 783.2,1340 799.2,1350.7 L 799.2,1582.6 C 791.2,1598.6 772.6,1614.6 756.6,1622.6 C 756.6,1593.2 756.6,1566.6 756.6,1539.9 L 756.6,1353.3 Z" fill="url(#wbside)" stroke="#1c1c1c" stroke-width="1.6" stroke-linejoin="round" stroke-linecap="round" />
<path d="M 643.3,1353.3 C 676.6,1337.9 711.3,1329.9 745.9,1333.3 L 756.6,1353.3 L 756.6,1539.9 C 753.9,1550.6 737.9,1559.9 721.9,1566.6 L 676.6,1577.3 C 660.6,1581.2 650,1585.2 647.3,1587.9 L 643.3,1601.2 L 644.6,1555.9 C 650,1545.3 660.6,1541.3 703.3,1532.5 L 715.3,1521.3 L 715.3,1377.3 L 703.3,1362.6 L 643.3,1372 Z" fill="url(#wbfront)" stroke="#1c1c1c" stroke-width="1.6" stroke-linejoin="round" stroke-linecap="round" />
<line x1="716.6" y1="1448" x2="756.6" y2="1442.6" stroke="#1c1c1c" stroke-width="1.6" stroke-linecap="round"/>
<polygon points="871.9,1369 949.2,1386.6 1013.2,1398.3 1038.2,1431.9 1038.2,1479.9 991.8,1478.8 933.2,1469.2 893.2,1457.5 890.5,1410.6" fill="url(#arm1)" stroke="#1c1c1c" stroke-width="1.6" stroke-linejoin="round" />
<polygon points="890.5,1534.8 940.7,1543.9 1013.2,1557.2 1038.2,1589.2 1038.2,1631.9 1013.2,1629.2 938.5,1622.8 885.2,1605.2 821.2,1607.9 757.3,1622.8 799.9,1597.2 890.5,1581.2" fill="url(#arm2)" stroke="#1c1c1c" stroke-width="1.6" stroke-linejoin="round" />
<path d="M 842.6,1371.5 L 876.3,1389.1 C 886.5,1396.4 890.9,1403.8 890.9,1412.6 L 890.9,1456.5 L 945.1,1510.7 L 945.1,1544.4 L 890.9,1537.1 L 890.9,1578.1 C 889.5,1588.4 883.6,1594.2 876.3,1596.4 L 860.1,1601.6 L 827.9,1603 L 813.3,1529.8 L 813.3,1383.3 Z" fill="url(#dbm)" stroke="#1c1c1c" stroke-width="1.6" stroke-linejoin="round" stroke-linecap="round" />
<path d="M 774.4,1361.3 L 778.1,1349.6 L 789.8,1339.3 L 805.9,1336.4 L 822.1,1339.3 L 830.8,1349.6 L 839.6,1365.7 L 857.2,1371.5 L 870.4,1386.2 L 873.3,1403.8 L 868.9,1421.4 L 857.2,1434.5 L 842.6,1437.5 L 830.8,1431.6 L 822.1,1425.8 L 798.6,1417.7 L 798.6,1403.8 L 795.7,1392.1 L 784,1378.9 L 775.2,1371.5 Z" fill="#05131D" stroke="#20262c" stroke-width="1.2" stroke-linejoin="round" stroke-linecap="round" />
<ellipse cx="803" cy="1360.5" rx="15.38" ry="17.58" fill="#020A10" stroke="#5f6468" stroke-width="1.3" transform="rotate(35 803 1360.5)" />
<path d="M 776.6,1368.6 C 784,1380.3 798.6,1386.2 808.9,1381.8 C 822.1,1374.5 827.9,1362.7 829.4,1351" fill="none" stroke="#5f6468" stroke-width="1.3" stroke-linejoin="round" stroke-linecap="round" />
<path d="M 842.6,1373 C 855.8,1380.3 861.6,1397.9 857.2,1412.6 C 854.3,1421.4 848.4,1427.2 841.1,1428.7" fill="none" stroke="#5f6468" stroke-width="1.3" stroke-linejoin="round" stroke-linecap="round" />
<path d="M 851.4,1374.5 C 866,1386.2 870.4,1406.7 864.5,1424.3" fill="none" stroke="#5f6468" stroke-width="1.3" stroke-linejoin="round" stroke-linecap="round" />
<path d="M 822.1,1386.2 L 833.8,1380.3 L 835.2,1389.1 M 842.6,1403.8 L 851.4,1400.8 L 852.8,1409.6 L 845.5,1412.6 Z" fill="none" stroke="#5f6468" stroke-width="1.3" stroke-linejoin="round" stroke-linecap="round" />
<path d="M 774.4,1441.1 L 778.1,1429.4 L 789.8,1419.2 L 805.9,1416.2 L 822.1,1419.2 L 830.8,1429.4 L 839.6,1445.5 L 857.2,1451.4 L 870.4,1466 L 873.3,1483.6 L 868.9,1501.2 L 857.2,1514.4 L 842.6,1517.3 L 830.8,1511.5 L 822.1,1505.6 L 798.6,1497.5 L 798.6,1483.6 L 795.7,1471.9 L 784,1458.7 L 775.2,1451.4 Z" fill="#05131D" stroke="#20262c" stroke-width="1.2" stroke-linejoin="round" stroke-linecap="round" />
<ellipse cx="803" cy="1440.4" rx="15.38" ry="17.58" fill="#020A10" stroke="#5f6468" stroke-width="1.3" transform="rotate(35 803 1440.4)" />
<path d="M 776.6,1448.5 C 784,1460.2 798.6,1466 808.9,1461.6 C 822.1,1454.3 827.9,1442.6 829.4,1430.9" fill="none" stroke="#5f6468" stroke-width="1.3" stroke-linejoin="round" stroke-linecap="round" />
<path d="M 842.6,1452.9 C 855.8,1460.2 861.6,1477.8 857.2,1492.4 C 854.3,1501.2 848.4,1507.1 841.1,1508.5" fill="none" stroke="#5f6468" stroke-width="1.3" stroke-linejoin="round" stroke-linecap="round" />
<path d="M 851.4,1454.3 C 866,1466 870.4,1486.6 864.5,1504.1" fill="none" stroke="#5f6468" stroke-width="1.3" stroke-linejoin="round" stroke-linecap="round" />
<path d="M 822.1,1466 L 833.8,1460.2 L 835.2,1469 M 842.6,1483.6 L 851.4,1480.7 L 852.8,1489.5 L 845.5,1492.4 Z" fill="none" stroke="#5f6468" stroke-width="1.3" stroke-linejoin="round" stroke-linecap="round" />
<path d="M 774.4,1521 L 778.1,1509.3 L 789.8,1499 L 805.9,1496.1 L 822.1,1499 L 830.8,1509.3 L 839.6,1525.4 L 857.2,1531.2 L 870.4,1545.9 L 873.3,1563.5 L 868.9,1581.1 L 857.2,1594.2 L 842.6,1597.2 L 830.8,1591.3 L 822.1,1585.5 L 798.6,1577.4 L 798.6,1563.5 L 795.7,1551.8 L 784,1538.6 L 775.2,1531.2 Z" fill="#05131D" stroke="#20262c" stroke-width="1.2" stroke-linejoin="round" stroke-linecap="round" />
<ellipse cx="803" cy="1520.3" rx="15.38" ry="17.58" fill="#020A10" stroke="#5f6468" stroke-width="1.3" transform="rotate(35 803 1520.3)" />
<path d="M 776.6,1528.3 C 784,1540 798.6,1545.9 808.9,1541.5 C 822.1,1534.2 827.9,1522.5 829.4,1510.7" fill="none" stroke="#5f6468" stroke-width="1.3" stroke-linejoin="round" stroke-linecap="round" />
<path d="M 842.6,1532.7 C 855.8,1540 861.6,1557.6 857.2,1572.3 C 854.3,1581.1 848.4,1586.9 841.1,1588.4" fill="none" stroke="#5f6468" stroke-width="1.3" stroke-linejoin="round" stroke-linecap="round" />
<path d="M 851.4,1534.2 C 866,1545.9 870.4,1566.4 864.5,1584" fill="none" stroke="#5f6468" stroke-width="1.3" stroke-linejoin="round" stroke-linecap="round" />
<path d="M 822.1,1545.9 L 833.8,1540 L 835.2,1548.8 M 842.6,1563.5 L 851.4,1560.5 L 852.8,1569.3 L 845.5,1572.3 Z" fill="none" stroke="#5f6468" stroke-width="1.3" stroke-linejoin="round" stroke-linecap="round" />
<polygon points="644.6,1532.3 694.4,1521.6 703.3,1532.6 714.8,1523.7 701.5,1530.8 660.6,1539.7 650,1545 644.6,1553.9 643.7,1578.8 596.6,1561" fill="#4B494A" stroke="#1c1c1c" stroke-width="0" stroke-linejoin="round" />
<path d="M 714.8,1523.7 L 701.5,1530.8 L 660.6,1539.7 L 650,1545 L 644.6,1553.9 L 643.7,1596.6" fill="none" stroke="#1c1c1c" stroke-width="1.6" stroke-linejoin="round" stroke-linecap="round" />
<path d="M 701.5,1360.6 L 714.8,1379.8 L 714.8,1523.7 L 703.3,1532.6 L 694.4,1522.3 L 694.4,1365.5 Z" fill="url(#cfs)" stroke="#1c1c1c" stroke-width="1.6" stroke-linejoin="round" stroke-linecap="round" />
<path d="M 506.9,1408.2 Q 506.9,1396.6 516.7,1393.1 L 681.9,1362 L 697.9,1359.9 Q 703.3,1359.3 703.3,1365.5 L 703.3,1511.3 Q 703.3,1518.4 694.4,1521.6 L 644.6,1532.3 L 514.9,1555.4 Q 506.9,1550.4 506.9,1543.3 Z" fill="#6B6769" stroke="#1c1c1c" stroke-width="1.6" stroke-linejoin="round" stroke-linecap="round" />
<polygon points="528.2,1413.5 683.7,1382.4 683.7,1501.5 528.2,1533.5" fill="#B5B9B5" stroke="#1c1c1c" stroke-width="1.6" stroke-linejoin="round" />
<polygon points="533.5,1418.9 682.8,1389.5 682.8,1500.6 533.5,1531.7" fill="#AEB2AE" stroke="#1c1c1c" stroke-width="0" stroke-linejoin="round" />
<polygon points="560.2,1413.5 682.8,1389.5 682.8,1406.4 658.8,1409.1 658.8,1434.9 670.4,1447.3 670.4,1468.6 594.9,1486.4 561.1,1445.5 571.8,1440.2 570.9,1426.9 561.1,1418.9" fill="#7B7E7A" stroke="#1c1c1c" stroke-width="1.6" stroke-linejoin="round" />
<polygon points="658.8,1409.1 682.8,1405.5 682.8,1429.5 658.8,1434.9" fill="#B7BBB7" stroke="#1c1c1c" stroke-width="1.6" stroke-linejoin="round" />
<polygon points="532.7,1431.3 561.1,1426.9 571.8,1441.1 546.9,1443.7" fill="#858884" stroke="#1c1c1c" stroke-width="1.6" stroke-linejoin="round" />
<polygon points="532.7,1431.3 546.9,1443.7 548.6,1461.5 532.7,1466.8" fill="#A3A7A3" stroke="#1c1c1c" stroke-width="1.6" stroke-linejoin="round" />
<polygon points="546.9,1443.7 571.8,1441.1 570.9,1436.6 570.9,1441.1 548.6,1445.5 548.6,1461.5" fill="#9A9D99" stroke="#1c1c1c" stroke-width="1.6" stroke-linejoin="round" />
<polygon points="594.9,1486.4 670.4,1468.6 658.8,1488.2 658.8,1497.1 605.5,1507.7" fill="#BBBFBB" stroke="#1c1c1c" stroke-width="1.6" stroke-linejoin="round" />
<polygon points="575.3,1470.4 594.9,1486.4 605.5,1507.7 575.3,1513.9" fill="#8D908C" stroke="#1c1c1c" stroke-width="1.6" stroke-linejoin="round" />
<polygon points="548.6,1461.5 561.1,1465.1 561.1,1474 575.3,1470.4 575.3,1513.9 533.5,1523.7 533.5,1466.8" fill="#B1B5B1" stroke="#1c1c1c" stroke-width="0" stroke-linejoin="round" />
<polygon points="675.7,1448.7 681.1,1445.9 681.9,1448.7 676.6,1451.2" fill="#D8C030" stroke="#554" stroke-width="0.8" stroke-linejoin="round" />
<line x1="669.5" y1="1452.6" x2="681.9" y2="1451.2" stroke="#444" stroke-width="1.2" stroke-linecap="round"/>
<polygon points="675.7,1458.5 681.1,1455.7 681.9,1458.5 676.6,1461" fill="#D8C030" stroke="#554" stroke-width="0.8" stroke-linejoin="round" />
<line x1="669.5" y1="1462.4" x2="681.9" y2="1461" stroke="#444" stroke-width="1.2" stroke-linecap="round"/>
<polygon points="675.7,1468.6 681.1,1465.8 681.9,1468.6 676.6,1471.1" fill="#D8C030" stroke="#554" stroke-width="0.8" stroke-linejoin="round" />
<line x1="669.5" y1="1472.5" x2="681.9" y2="1471.1" stroke="#444" stroke-width="1.2" stroke-linecap="round"/>
<polygon points="675.7,1478.9 681.1,1476.1 681.9,1478.9 676.6,1481.4" fill="#D8C030" stroke="#554" stroke-width="0.8" stroke-linejoin="round" />
<line x1="669.5" y1="1482.8" x2="681.9" y2="1481.4" stroke="#444" stroke-width="1.2" stroke-linecap="round"/>
<path d="M 1149.3,1265.3 C 1163.9,1272 1173.3,1285.3 1173.3,1298.6 C 1173.3,1314.6 1163.9,1325.3 1150.6,1326.6 Z" fill="#05131D" stroke="#5f6468" stroke-width="1.6" stroke-linejoin="round" stroke-linecap="round" />
<path d="M 1149.3,1426.6 C 1163.9,1434.6 1173.3,1447.9 1173.3,1461.2 C 1173.3,1477.2 1163.9,1486.6 1150.6,1488.4 Z" fill="#0B4FC0" stroke="#223" stroke-width="1.6" stroke-linejoin="round" stroke-linecap="round" />
<path d="M 1149.3,1557.2 C 1166.6,1565.2 1182.6,1586.5 1183.9,1610.5 C 1182.6,1629.2 1171.9,1642.5 1150.6,1651.9 Z" fill="url(#prot)" stroke="#1c1c1c" stroke-width="1.6" stroke-linejoin="round" stroke-linecap="round" />
<polygon points="892,1458 934.7,1466.6 934.1,1478.6 910.7,1474.6" fill="#DADAD6" stroke="#1c1c1c" stroke-width="1.6" stroke-linejoin="round" />
<path d="M 1113.3,1200 L 1149.3,1245.3 L 1149.3,1727.8 C 1147.9,1759.8 1134.6,1773.2 1118.6,1774.5 L 1113.3,1693.2 Z" fill="#DCDCDC" stroke="#1c1c1c" stroke-width="1.6" stroke-linejoin="round" stroke-linecap="round" />
<path d="M 1149.3,1727.8 C 1147.9,1759.8 1134.6,1773.2 1118.6,1774.5 C 1097.3,1775.8 1070.6,1770.5 1057.3,1749.2 C 1070.6,1733.2 1102.6,1727.8 1113.3,1701.2 Z" fill="#D4D4D2" stroke="#1c1c1c" stroke-width="1.6" stroke-linejoin="round" stroke-linecap="round" />
<path d="M 1038.6,1220 C 1038.6,1197.3 1057.3,1182.7 1078.6,1182.7 C 1097.3,1182.7 1110.6,1192 1113.3,1200 L 1113.3,1701.2 C 1110.6,1725.2 1086.6,1738.5 1070.6,1733.2 C 1049.3,1727.8 1038.6,1714.5 1038.6,1693.2 Z" fill="url(#b7f)" stroke="#1c1c1c" stroke-width="1.6" stroke-linejoin="round" stroke-linecap="round" />
<rect x="1049.8" y="1241.2" width="53.32" height="25.59" fill="#CBCBCB" stroke="#333" stroke-width="1.2"/>
<polygon points="1049.8,1241.2 1062.6,1254 1049.8,1266.8" fill="#EDEDED" stroke="#333" stroke-width="1" stroke-linejoin="round" />
<rect x="1049.8" y="1319.8" width="53.32" height="25.59" fill="#CBCBCB" stroke="#333" stroke-width="1.2"/>
<polygon points="1049.8,1319.8 1062.6,1332.6 1049.8,1345.4" fill="#EDEDED" stroke="#333" stroke-width="1" stroke-linejoin="round" />
<rect x="1049.8" y="1398.5" width="53.32" height="25.59" fill="#CBCBCB" stroke="#333" stroke-width="1.2"/>
<polygon points="1049.8,1398.5 1062.6,1411.3 1049.8,1424.1" fill="#EDEDED" stroke="#333" stroke-width="1" stroke-linejoin="round" />
<rect x="1049.8" y="1477.1" width="53.32" height="25.59" fill="#CBCBCB" stroke="#333" stroke-width="1.2"/>
<polygon points="1049.8,1477.1 1062.6,1489.9 1049.8,1502.7" fill="#EDEDED" stroke="#333" stroke-width="1" stroke-linejoin="round" />
<rect x="1049.8" y="1555.7" width="53.32" height="25.59" fill="#CBCBCB" stroke="#333" stroke-width="1.2"/>
<polygon points="1049.8,1555.7 1062.6,1568.5 1049.8,1581.3" fill="#EDEDED" stroke="#333" stroke-width="1" stroke-linejoin="round" />
<rect x="1049.8" y="1634.4" width="53.32" height="25.59" fill="#CBCBCB" stroke="#333" stroke-width="1.2"/>
<polygon points="1049.8,1634.4 1062.6,1647.2 1049.8,1660" fill="#EDEDED" stroke="#333" stroke-width="1" stroke-linejoin="round" />
<ellipse cx="1074.6" cy="1217.3" rx="32.52" ry="34.12" fill="#FFFFFF" stroke="#1c1c1c" stroke-width="1.6" />
<ellipse cx="1075.9" cy="1217.8" rx="26.66" ry="28.79" fill="#05131D" stroke="#5f6468" stroke-width="1.6" />
<ellipse cx="1077.3" cy="1293.3" rx="31.99" ry="31.46" fill="#FFFFFF" stroke="#1c1c1c" stroke-width="1.6" />
<ellipse cx="1078.6" cy="1296.5" rx="26.13" ry="26.13" fill="#C6C6C2" stroke="#1c1c1c" stroke-width="1.6" />
<ellipse cx="1077.3" cy="1371.9" rx="31.99" ry="31.46" fill="#FFFFFF" stroke="#1c1c1c" stroke-width="1.6" />
<ellipse cx="1078.6" cy="1375.1" rx="26.13" ry="26.13" fill="#C6C6C2" stroke="#1c1c1c" stroke-width="1.6" />
<ellipse cx="1077.3" cy="1450.6" rx="31.99" ry="31.46" fill="#FFFFFF" stroke="#1c1c1c" stroke-width="1.6" />
<ellipse cx="1078.6" cy="1453.8" rx="26.13" ry="26.13" fill="#C6C6C2" stroke="#1c1c1c" stroke-width="1.6" />
<ellipse cx="1077.3" cy="1529.2" rx="31.99" ry="31.46" fill="#FFFFFF" stroke="#1c1c1c" stroke-width="1.6" />
<ellipse cx="1078.6" cy="1532.4" rx="26.13" ry="26.13" fill="#C6C6C2" stroke="#1c1c1c" stroke-width="1.6" />
<ellipse cx="1077.3" cy="1607.9" rx="31.99" ry="31.46" fill="#FFFFFF" stroke="#1c1c1c" stroke-width="1.6" />
<ellipse cx="1078.6" cy="1611.1" rx="26.13" ry="26.13" fill="#C6C6C2" stroke="#1c1c1c" stroke-width="1.6" />
<ellipse cx="1077.3" cy="1686.5" rx="31.99" ry="31.46" fill="#FFFFFF" stroke="#1c1c1c" stroke-width="1.6" />
<ellipse cx="1078.6" cy="1689.7" rx="26.13" ry="26.13" fill="#C6C6C2" stroke="#1c1c1c" stroke-width="1.6" />
<path d="M 938.5,1381 L 938.5,1352.6 C 938.5,1341.2 945.6,1334.1 957,1332.7 L 996.8,1331.9 L 997.5,1372.5 L 955.5,1381.7 Z" fill="url(#cna0_0)" stroke="#333" stroke-width="1.2" stroke-linejoin="round" stroke-linecap="round" />
<path d="M 996.8,1331.9 L 1019.5,1328.4 L 1030.9,1375.3 L 997.5,1372.5 Z" fill="#A4A8A4" stroke="none" stroke-width="0" stroke-linejoin="round" stroke-linecap="round" />
<path d="M 956.3,1344 C 956.3,1338.3 965.5,1338.3 965.5,1344 L 965.5,1375.3 C 965.5,1381 956.3,1381 956.3,1375.3 Z" fill="#B9BDB9" stroke="#333" stroke-width="1.4" stroke-linejoin="round" stroke-linecap="round" />
<path d="M 930.7,1336.9 C 930.7,1328.4 937.1,1322.7 945.6,1320.6 L 1008.2,1311.3 L 1005.3,1331.2 L 957,1332.7 C 945.6,1334.1 938.5,1341.2 938.5,1352.6 L 931.4,1346.9 Z" fill="#8E918D" stroke="#333" stroke-width="1.2" stroke-linejoin="round" stroke-linecap="round" />
<path d="M 930,1331.2 C 930.7,1322.7 935.6,1318.4 941.3,1317 L 1033.7,1298.8 C 1019.5,1304.2 1011,1312.7 1006.7,1322.7 L 945.6,1326.3 C 937.1,1328.4 932.8,1332.7 931.4,1336.9 Z" fill="#BBBEBA" stroke="#333" stroke-width="1.2" stroke-linejoin="round" stroke-linecap="round" />
<path d="M 1077.8,1318.4 L 1111.9,1356.8 C 1114.8,1366.8 1113.4,1378.2 1104.8,1395.2 C 1099.1,1403.7 1093.5,1408 1087.8,1409.4 L 1062.2,1415.1 L 1033.7,1418.7 L 1022.4,1415.1 L 1011,1403.7 L 988.2,1398.1 L 955.5,1388.4 L 938.5,1381.7 L 955.5,1381.7 L 997.5,1372.5 L 1026.6,1372.5 C 1048,1369.6 1069.3,1358.2 1077.8,1318.4 Z" fill="url(#cnb0_0)" stroke="#333" stroke-width="1.2" stroke-linejoin="round" stroke-linecap="round" />
<ellipse cx="1041.6" cy="1336.9" rx="38.1" ry="38.67" fill="#AEB2AE" stroke="#333" stroke-width="1.3" />
<ellipse cx="1041.8" cy="1337.2" rx="34.12" ry="34.83" fill="#9A9E9A" stroke="#444" stroke-width="1.1" />
<ellipse cx="1042" cy="1337.3" rx="30.57" ry="31" fill="#C2C5C1" stroke="#444" stroke-width="1.1" />
<ellipse cx="1042.3" cy="1337.6" rx="26.45" ry="25.88" fill="#0F5FD8" stroke="#223" stroke-width="1.2" />
<path d="M 1018.1,1338.3 L 1036.6,1320.6 L 1062.2,1326.3 L 1068.6,1332.7 L 1048,1353.3 L 1032.3,1350.4 Z" fill="#0A3FA0" stroke="#223" stroke-width="1.2" stroke-linejoin="round" stroke-linecap="round" />
<path d="M 1018.1,1338.3 L 1033.7,1332.7 L 1068.6,1332.7" fill="none" stroke="#223" stroke-width="1.2" stroke-linejoin="round" stroke-linecap="round" />
<path d="M 939.8,1538.3 L 939.8,1509.8 C 939.8,1498.5 946.9,1491.4 958.3,1489.9 L 998.1,1489.2 L 998.8,1529.8 L 956.9,1539 Z" fill="url(#cna5_590)" stroke="#333" stroke-width="1.2" stroke-linejoin="round" stroke-linecap="round" />
<path d="M 998.1,1489.2 L 1020.9,1485.7 L 1032.2,1532.6 L 998.8,1529.8 Z" fill="#A4A8A4" stroke="none" stroke-width="0" stroke-linejoin="round" stroke-linecap="round" />
<path d="M 957.6,1501.3 C 957.6,1495.6 966.8,1495.6 966.8,1501.3 L 966.8,1532.6 C 966.8,1538.3 957.6,1538.3 957.6,1532.6 Z" fill="#B9BDB9" stroke="#333" stroke-width="1.4" stroke-linejoin="round" stroke-linecap="round" />
<path d="M 932,1494.2 C 932,1485.7 938.4,1480 946.9,1477.9 L 1009.5,1468.6 L 1006.6,1488.5 L 958.3,1489.9 C 946.9,1491.4 939.8,1498.5 939.8,1509.8 L 932.7,1504.2 Z" fill="#8E918D" stroke="#333" stroke-width="1.2" stroke-linejoin="round" stroke-linecap="round" />
<path d="M 931.3,1488.5 C 932,1480 937,1475.7 942.7,1474.3 L 1035.1,1456.1 C 1020.9,1461.5 1012.3,1470 1008.1,1480 L 946.9,1483.5 C 938.4,1485.7 934.1,1489.9 932.7,1494.2 Z" fill="#BBBEBA" stroke="#333" stroke-width="1.2" stroke-linejoin="round" stroke-linecap="round" />
<path d="M 1079.2,1475.7 L 1113.3,1514.1 C 1116.1,1524.1 1114.7,1535.4 1106.2,1552.5 C 1100.5,1561 1094.8,1565.3 1089.1,1566.7 L 1063.5,1572.4 L 1035.1,1576 L 1023.7,1572.4 L 1012.3,1561 L 989.6,1555.3 L 956.9,1545.7 L 939.8,1539 L 956.9,1539 L 998.8,1529.8 L 1028,1529.8 C 1049.3,1526.9 1070.6,1515.5 1079.2,1475.7 Z" fill="url(#cnb5_590)" stroke="#333" stroke-width="1.2" stroke-linejoin="round" stroke-linecap="round" />
<ellipse cx="1042.9" cy="1494.2" rx="38.1" ry="38.67" fill="#AEB2AE" stroke="#333" stroke-width="1.3" />
<ellipse cx="1043.2" cy="1494.5" rx="34.12" ry="34.83" fill="#9A9E9A" stroke="#444" stroke-width="1.1" />
<ellipse cx="1043.3" cy="1494.6" rx="30.57" ry="31" fill="#C2C5C1" stroke="#444" stroke-width="1.1" />
<ellipse cx="1043.6" cy="1494.9" rx="26.45" ry="25.88" fill="#0F5FD8" stroke="#223" stroke-width="1.2" />
<path d="M 1019.4,1495.6 L 1037.9,1477.9 L 1063.5,1483.5 L 1069.9,1489.9 L 1049.3,1510.6 L 1033.7,1507.7 Z" fill="#0A3FA0" stroke="#223" stroke-width="1.2" stroke-linejoin="round" stroke-linecap="round" />
<path d="M 1019.4,1495.6 L 1035.1,1489.9 L 1069.9,1489.9" fill="none" stroke="#223" stroke-width="1.2" stroke-linejoin="round" stroke-linecap="round" />
<path d="M 939.8,1695.6 L 939.8,1667.1 C 939.8,1655.8 946.9,1648.6 958.3,1647.2 L 998.1,1646.5 L 998.8,1687 L 956.9,1696.3 Z" fill="url(#cna5_1180)" stroke="#333" stroke-width="1.2" stroke-linejoin="round" stroke-linecap="round" />
<path d="M 998.1,1646.5 L 1020.9,1643 L 1032.2,1689.9 L 998.8,1687 Z" fill="#A4A8A4" stroke="none" stroke-width="0" stroke-linejoin="round" stroke-linecap="round" />
<path d="M 957.6,1658.6 C 957.6,1652.9 966.8,1652.9 966.8,1658.6 L 966.8,1689.9 C 966.8,1695.6 957.6,1695.6 957.6,1689.9 Z" fill="#B9BDB9" stroke="#333" stroke-width="1.4" stroke-linejoin="round" stroke-linecap="round" />
<path d="M 932,1651.5 C 932,1643 938.4,1637.3 946.9,1635.1 L 1009.5,1625.9 L 1006.6,1645.8 L 958.3,1647.2 C 946.9,1648.6 939.8,1655.8 939.8,1667.1 L 932.7,1661.4 Z" fill="#8E918D" stroke="#333" stroke-width="1.2" stroke-linejoin="round" stroke-linecap="round" />
<path d="M 931.3,1645.8 C 932,1637.3 937,1633 942.7,1631.6 L 1035.1,1613.4 C 1020.9,1618.8 1012.3,1627.3 1008.1,1637.3 L 946.9,1640.8 C 938.4,1643 934.1,1647.2 932.7,1651.5 Z" fill="#BBBEBA" stroke="#333" stroke-width="1.2" stroke-linejoin="round" stroke-linecap="round" />
<path d="M 1079.2,1633 L 1113.3,1671.4 C 1116.1,1681.4 1114.7,1692.7 1106.2,1709.8 C 1100.5,1718.3 1094.8,1722.6 1089.1,1724 L 1063.5,1729.7 L 1035.1,1733.2 L 1023.7,1729.7 L 1012.3,1718.3 L 989.6,1712.6 L 956.9,1703 L 939.8,1696.3 L 956.9,1696.3 L 998.8,1687 L 1028,1687 C 1049.3,1684.2 1070.6,1672.8 1079.2,1633 Z" fill="url(#cnb5_1180)" stroke="#333" stroke-width="1.2" stroke-linejoin="round" stroke-linecap="round" />
<ellipse cx="1042.9" cy="1651.5" rx="38.1" ry="38.67" fill="#AEB2AE" stroke="#333" stroke-width="1.3" />
<ellipse cx="1043.2" cy="1651.8" rx="34.12" ry="34.83" fill="#9A9E9A" stroke="#444" stroke-width="1.1" />
<ellipse cx="1043.3" cy="1651.9" rx="30.57" ry="31" fill="#C2C5C1" stroke="#444" stroke-width="1.1" />
<ellipse cx="1043.6" cy="1652.2" rx="26.45" ry="25.88" fill="#0F5FD8" stroke="#223" stroke-width="1.2" />
<path d="M 1019.4,1652.9 L 1037.9,1635.1 L 1063.5,1640.8 L 1069.9,1647.2 L 1049.3,1667.8 L 1033.7,1665 Z" fill="#0A3FA0" stroke="#223" stroke-width="1.2" stroke-linejoin="round" stroke-linecap="round" />
<path d="M 1019.4,1652.9 L 1035.1,1647.2 L 1069.9,1647.2" fill="none" stroke="#223" stroke-width="1.2" stroke-linejoin="round" stroke-linecap="round" />
<path d="M 933.3,1725.3 C 933.3,1706.6 1014.6,1706.6 1015.2,1725.3 L 1015.2,1733.3 C 1014.6,1757.3 933.3,1757.3 933.3,1733.3 Z" fill="#8E918E" stroke="#1c1c1c" stroke-width="1.6" stroke-linejoin="round" stroke-linecap="round" />
<ellipse cx="974.1" cy="1730.6" rx="39.99" ry="19.19" fill="#8A8D8A" stroke="#1c1c1c" stroke-width="1.6" />
<path d="M 950.7,1725.3 L 966.6,1721.3 L 969.8,1717.3 L 985.3,1720.5 L 984,1725.3 L 1000,1727.4 L 999.2,1734.6 L 985.3,1736 L 989.3,1742.6 L 973.3,1744 L 969.8,1738.6 L 953.3,1740 L 949.3,1733.3 Z" fill="#A3A6A2" stroke="#4a4d4a" stroke-width="1.6" stroke-linejoin="round" stroke-linecap="round" />
<path d="M 1070.6,1775.9 C 1091.9,1777.3 1126.6,1775.9 1147.9,1757.3 L 1149.3,1725.3 C 1166.6,1733.3 1182.6,1749.3 1182.6,1765.3 L 1181.2,1786.6 C 1177.3,1802.6 1169.3,1810.6 1155.9,1813.3 L 1086.6,1826.6 L 1083.9,1807.9 Z" fill="url(#c5b)" stroke="#1c1c1c" stroke-width="1.6" stroke-linejoin="round" stroke-linecap="round" />
<path d="M 1012,1745.3 C 1025.3,1738.6 1057.3,1738.6 1070.6,1745.3 L 1073.3,1789.3 L 1006.6,1797.3 Z" fill="url(#c5c)" stroke="#1c1c1c" stroke-width="1.6" stroke-linejoin="round" stroke-linecap="round" />
<line x1="1032" y1="1744" x2="1032" y2="1781.3" stroke="#111" stroke-width="5" stroke-linecap="round"/>
<path d="M 1001.3,1802.6 C 1001.3,1783.9 1083.9,1781.3 1084.5,1802.6 L 1084.5,1813.3 C 1081.3,1837.3 1004,1839.9 1001.3,1813.3 Z" fill="#858885" stroke="#1c1c1c" stroke-width="1.6" stroke-linejoin="round" stroke-linecap="round" />
<ellipse cx="1042.6" cy="1809.3" rx="39.99" ry="21.33" fill="#7C7F7C" stroke="#1c1c1c" stroke-width="1.6" />
<path d="M 1018.6,1813.3 L 1033.3,1810.6 L 1030.6,1803.9 L 1045.3,1802.6 L 1049.3,1809.3 L 1066.6,1810.6 L 1062.6,1817.3 L 1052,1818.6 L 1057.3,1826.6 L 1044,1827.9 L 1038.6,1821.3 L 1022.6,1821.3 Z" fill="#05131D" stroke="#222" stroke-width="1.6" stroke-linejoin="round" stroke-linecap="round" />
</g>
<rect x="1220" y="1496.2" width="132" height="7.6" fill="#000"/>
<polygon points="1131.5,1500 1225,1481.3 1225,1518.7" fill="#000"/>
<clipPath id="clipPli"><rect x="146" y="22" width="1090" height="1108"/></clipPath>
<g clip-path="url(#clipPli)">
<path d="M 900.5,267.5 C 902.8,256.3 905,248.4 907.3,245 C 914,233.8 920.8,228.1 927.5,224.8 L 941,223.6 L 950,229.3 L 968.1,225.9 L 986.1,228.1 L 1006.3,236 Z" fill="#F59A23" stroke="#2a2418" stroke-width="1.2" stroke-linejoin="round" stroke-linecap="round" />
<path d="M 911.8,251.8 C 923,238.3 936.5,231.5 950,229.3" fill="none" stroke="#2a2418" stroke-width="1.2" stroke-linejoin="round" stroke-linecap="round" />
<path d="M 409.8,456.6 L 860,284.4 L 896,269.8 L 1006.3,236 L 1114.4,277.7 L 1040.1,324.9 L 746.5,436.6 C 724.9,447.6 706.9,467.9 697.2,492.7 L 583.1,605.2 L 409.8,605.2 Z" fill="#FFFFFF" stroke="#1c1c1c" stroke-width="1.6" stroke-linejoin="round" stroke-linecap="round" />
<path d="M 522.3,506.2 C 526.8,492.7 535.8,467.9 549.3,458.9 L 860,329.4 L 1037.8,258.5 L 1062.6,258.1 L 1114.4,277.7" fill="none" stroke="#1c1c1c" stroke-width="1.6" stroke-linejoin="round" stroke-linecap="round" />
<polygon points="697.3,492.6 706.6,468.6 725.3,447.3 746.6,436.6 1010,334 1079.8,306.8 1079.8,529.9 1010,553.9 846.6,613.9 853.2,599.3 851.9,561.9 842.6,537.9 826.6,516.6 799.9,500.6 767.9,494 697.3,520.6" fill="#C3C2BD" stroke="#1c1c1c" stroke-width="1.6" stroke-linejoin="round" />
<ellipse cx="1189.8" cy="395.9" rx="27.01" ry="37.14" fill="#E98514" stroke="#3a2a14" stroke-width="1.2" transform="rotate(8 1189.8 395.9)" />
<ellipse cx="1122.3" cy="511.8" rx="26.56" ry="37.14" fill="#E98514" stroke="#3a2a14" stroke-width="1.2" transform="rotate(8 1122.3 511.8)" />
<ellipse cx="1098" cy="412.1" rx="99.28" ry="134.62" fill="url(#phs)" stroke="#3a2a14" stroke-width="1.3" transform="rotate(4.8 1098 412.1)" />
<ellipse cx="1107.6" cy="413.9" rx="88.92" ry="126.07" fill="#D67A14" stroke="#3a2a14" stroke-width="1.2" transform="rotate(4.8 1107.6 413.9)" />
<path d="M 1094.1,326.1 L 1152.7,317.1 L 1153.8,375.6 L 1190.9,366.6 L 1192,427.4 L 1154.9,447.6 L 1152.7,519.7 L 1094.1,537.7 L 1094.1,470.1 L 1055.9,492.7 L 1055.9,402.6 L 1094.1,398.1 Z" fill="#EE8C1A" stroke="#3a2a14" stroke-width="1.2" stroke-linejoin="round" stroke-linecap="round" />
<ellipse cx="1118.9" cy="337.3" rx="25.89" ry="36.02" fill="#EE8C1A" stroke="#3a2a14" stroke-width="1.2" transform="rotate(8 1118.9 337.3)" />
<ellipse cx="1119.8" cy="337.8" rx="22.06" ry="31.52" fill="#E58313" stroke="#3a2a14" stroke-width="1.1" transform="rotate(8 1119.8 337.8)" />
<ellipse cx="1120.7" cy="338.7" rx="18.46" ry="27.46" fill="url(#st1150610)" stroke="#3a2a14" stroke-width="1.2" transform="rotate(8 1120.7 338.7)" />
<ellipse cx="1184.2" cy="393.6" rx="25.89" ry="36.02" fill="#EE8C1A" stroke="#3a2a14" stroke-width="1.2" transform="rotate(8 1184.2 393.6)" />
<ellipse cx="1185.1" cy="394.1" rx="22.06" ry="31.52" fill="#E58313" stroke="#3a2a14" stroke-width="1.1" transform="rotate(8 1185.1 394.1)" />
<ellipse cx="1186" cy="395" rx="18.46" ry="27.46" fill="url(#st1440860)" stroke="#3a2a14" stroke-width="1.2" transform="rotate(8 1186 395)" />
<ellipse cx="1053.6" cy="447.6" rx="25.89" ry="36.02" fill="#EE8C1A" stroke="#3a2a14" stroke-width="1.2" transform="rotate(8 1053.6 447.6)" />
<ellipse cx="1054.5" cy="448.1" rx="22.06" ry="31.52" fill="#E58313" stroke="#3a2a14" stroke-width="1.1" transform="rotate(8 1054.5 448.1)" />
<ellipse cx="1055.4" cy="449" rx="18.46" ry="27.46" fill="url(#st8601100)" stroke="#3a2a14" stroke-width="1.2" transform="rotate(8 1055.4 449)" />
<ellipse cx="1118.9" cy="506.2" rx="25.89" ry="36.02" fill="#EE8C1A" stroke="#3a2a14" stroke-width="1.2" transform="rotate(8 1118.9 506.2)" />
<ellipse cx="1119.8" cy="506.6" rx="22.06" ry="31.52" fill="#E58313" stroke="#3a2a14" stroke-width="1.1" transform="rotate(8 1119.8 506.6)" />
<ellipse cx="1120.7" cy="507.5" rx="18.46" ry="27.46" fill="url(#st11501360)" stroke="#3a2a14" stroke-width="1.2" transform="rotate(8 1120.7 507.5)" />
<polygon points="1107.6,413.9 1118.9,400.4 1141.4,403.7 1143.6,434.1 1127.9,447.6 1107.6,443.1" fill="#FFA52B" stroke="#3a2a14" stroke-width="1.2" stroke-linejoin="round" />
<polygon points="1112.1,422.9 1136.9,416.1 1138,431.9 1114.4,438.6" fill="#D67A14" stroke="#3a2a14" stroke-width="1.1" stroke-linejoin="round" />
<polygon points="824.8,677.7 839.1,636.9 853.3,619.1 1009.7,558.7 1038.1,569.3 999,651.1 988.3,661.8 860.4,684.9 842.6,686.6" fill="#E1E2DE" stroke="#1c1c1c" stroke-width="1.6" stroke-linejoin="round" />
<ellipse cx="856.8" cy="649.3" rx="24.88" ry="32.7" fill="#DDDEDA" stroke="#1c1c1c" stroke-width="1.6" transform="rotate(12 856.8 649.3)" />
<ellipse cx="857.5" cy="650" rx="21.4" ry="28.78" fill="#E6E7E3" stroke="#1c1c1c" stroke-width="1.6" transform="rotate(12 857.5 650)" />
<ellipse cx="858.2" cy="650.7" rx="17.42" ry="24.2" fill="url(#hl610195)" stroke="#1c1c1c" stroke-width="1.6" transform="rotate(12 858.2 650.7)" />
<ellipse cx="920.8" cy="621.9" rx="24.88" ry="32.7" fill="#DDDEDA" stroke="#1c1c1c" stroke-width="1.6" transform="rotate(12 920.8 621.9)" />
<ellipse cx="921.5" cy="622.7" rx="21.4" ry="28.78" fill="#E6E7E3" stroke="#1c1c1c" stroke-width="1.6" transform="rotate(12 921.5 622.7)" />
<ellipse cx="922.2" cy="623.4" rx="17.42" ry="24.2" fill="url(#hl790118)" stroke="#1c1c1c" stroke-width="1.6" transform="rotate(12 922.2 623.4)" />
<ellipse cx="983" cy="596" rx="24.88" ry="32.7" fill="#DDDEDA" stroke="#1c1c1c" stroke-width="1.6" transform="rotate(12 983 596)" />
<ellipse cx="983.7" cy="596.7" rx="21.4" ry="28.78" fill="#E6E7E3" stroke="#1c1c1c" stroke-width="1.6" transform="rotate(12 983.7 596.7)" />
<ellipse cx="984.4" cy="597.4" rx="17.42" ry="24.2" fill="url(#hl96545)" stroke="#1c1c1c" stroke-width="1.6" transform="rotate(12 984.4 597.4)" />
<path d="M 216.4,683.9 L 246.8,607.4 L 296.4,504.5 C 306,486.6 317.7,476 339.1,460 L 474,402.9 C 482,401.3 487.3,402.7 492.6,405.3 L 553.9,430.7 L 565.9,468 L 448.6,514.6 L 303.3,646.6 Z" fill="#FFFFFF" stroke="#1c1c1c" stroke-width="1.6" stroke-linejoin="round" stroke-linecap="round" />
<polygon points="339.3,590.6 380.7,505.3 394,488 543.3,428.5 556.6,432 564.6,444 565.9,468 448.6,514.6 435.3,550.6 351.3,581.3" fill="#E1E2DE" stroke="#1c1c1c" stroke-width="1.6" stroke-linejoin="round" />
<ellipse cx="403.3" cy="520" rx="24.53" ry="32.52" fill="#DDDEDA" stroke="#1c1c1c" stroke-width="1.6" transform="rotate(12 403.3 520)" />
<ellipse cx="403.8" cy="520.5" rx="21.09" ry="28.62" fill="#E6E7E3" stroke="#1c1c1c" stroke-width="1.6" transform="rotate(12 403.8 520.5)" />
<ellipse cx="404.4" cy="521" rx="17.17" ry="24.07" fill="url(#hl275525)" stroke="#1c1c1c" stroke-width="1.6" transform="rotate(12 404.4 521)" />
<ellipse cx="468.6" cy="486.6" rx="24.53" ry="32.52" fill="#DDDEDA" stroke="#1c1c1c" stroke-width="1.6" transform="rotate(12 468.6 486.6)" />
<ellipse cx="469.2" cy="487.2" rx="21.09" ry="28.62" fill="#E6E7E3" stroke="#1c1c1c" stroke-width="1.6" transform="rotate(12 469.2 487.2)" />
<ellipse cx="469.7" cy="487.7" rx="17.17" ry="24.07" fill="url(#hl520400)" stroke="#1c1c1c" stroke-width="1.6" transform="rotate(12 469.7 487.7)" />
<ellipse cx="532.6" cy="458.6" rx="24.53" ry="32.52" fill="#DDDEDA" stroke="#1c1c1c" stroke-width="1.6" transform="rotate(12 532.6 458.6)" />
<ellipse cx="533.1" cy="459.2" rx="21.09" ry="28.62" fill="#E6E7E3" stroke="#1c1c1c" stroke-width="1.6" transform="rotate(12 533.1 459.2)" />
<ellipse cx="533.7" cy="459.7" rx="17.17" ry="24.07" fill="url(#hl760295)" stroke="#1c1c1c" stroke-width="1.6" transform="rotate(12 533.7 459.7)" />
<path d="M 246.6,611 C 248.4,596.8 260.9,584.4 282.2,580.8 L 296.4,579.8 L 334.8,593.3 L 435,553.5 L 404.8,614.6 L 443.9,637.7 C 447.5,643 447.8,664.4 445.7,692.8 C 442.1,707 431.5,717.7 420.8,717.7 L 395.9,714.1 L 257.3,650.1 C 250.2,643 246.6,628.8 246.6,611 Z" fill="#6B6769" stroke="#1c1c1c" stroke-width="1.6" stroke-linejoin="round" stroke-linecap="round" />
<ellipse cx="282.2" cy="625.3" rx="25.59" ry="32.7" fill="#615E5F" stroke="#1c1c1c" stroke-width="1.6" transform="rotate(12 282.2 625.3)" />
<ellipse cx="282.9" cy="626" rx="22.01" ry="28.78" fill="#5A5758" stroke="#1c1c1c" stroke-width="1.6" transform="rotate(12 282.9 626)" />
<ellipse cx="283.6" cy="626.7" rx="17.91" ry="24.2" fill="url(#hd400690)" stroke="#1c1c1c" stroke-width="1.6" transform="rotate(12 283.6 626.7)" />
<ellipse cx="347.9" cy="651.9" rx="25.59" ry="32.7" fill="#615E5F" stroke="#1c1c1c" stroke-width="1.6" transform="rotate(12 347.9 651.9)" />
<ellipse cx="348.6" cy="652.6" rx="22.01" ry="28.78" fill="#5A5758" stroke="#1c1c1c" stroke-width="1.6" transform="rotate(12 348.6 652.6)" />
<ellipse cx="349.4" cy="653.3" rx="17.91" ry="24.2" fill="url(#hd585765)" stroke="#1c1c1c" stroke-width="1.6" transform="rotate(12 349.4 653.3)" />
<ellipse cx="411.9" cy="678.6" rx="25.59" ry="32.7" fill="#615E5F" stroke="#1c1c1c" stroke-width="1.6" transform="rotate(12 411.9 678.6)" />
<ellipse cx="412.6" cy="679.3" rx="22.01" ry="28.78" fill="#5A5758" stroke="#1c1c1c" stroke-width="1.6" transform="rotate(12 412.6 679.3)" />
<ellipse cx="413.3" cy="680" rx="17.91" ry="24.2" fill="url(#hd765840)" stroke="#1c1c1c" stroke-width="1.6" transform="rotate(12 413.3 680)" />
<path d="M 404.6,615.9 L 447.3,516 C 455.3,502.6 463.3,497.3 471.3,494.6 L 609.9,452 L 673.9,477.3 L 540.6,528 C 527.3,537.3 519.3,545.3 516.6,550.6 L 479.3,631.9 L 442,694.6 L 444.6,651.9 L 436.6,635.9 Z" fill="#FFFFFF" stroke="#1c1c1c" stroke-width="1.6" stroke-linejoin="round" stroke-linecap="round" />
<polygon points="479.3,631.9 500.6,590.6 516.6,550.6 537.9,529.3 673.9,477.3 687.2,481.3 695.2,494.6 696.6,561.3 480.6,631.9" fill="#E1E2DE" stroke="#1c1c1c" stroke-width="1.6" stroke-linejoin="round" />
<ellipse cx="535.3" cy="566.6" rx="24.53" ry="32.52" fill="#DDDEDA" stroke="#1c1c1c" stroke-width="1.6" transform="rotate(12 535.3 566.6)" />
<ellipse cx="535.8" cy="567.1" rx="21.09" ry="28.62" fill="#E6E7E3" stroke="#1c1c1c" stroke-width="1.6" transform="rotate(12 535.8 567.1)" />
<ellipse cx="536.3" cy="567.7" rx="17.17" ry="24.07" fill="url(#hl770700)" stroke="#1c1c1c" stroke-width="1.6" transform="rotate(12 536.3 567.7)" />
<ellipse cx="599.3" cy="540" rx="24.53" ry="32.52" fill="#DDDEDA" stroke="#1c1c1c" stroke-width="1.6" transform="rotate(12 599.3 540)" />
<ellipse cx="599.8" cy="540.5" rx="21.09" ry="28.62" fill="#E6E7E3" stroke="#1c1c1c" stroke-width="1.6" transform="rotate(12 599.8 540.5)" />
<ellipse cx="600.3" cy="541" rx="17.17" ry="24.07" fill="url(#hl1010600)" stroke="#1c1c1c" stroke-width="1.6" transform="rotate(12 600.3 541)" />
<ellipse cx="663.2" cy="512" rx="24.53" ry="32.52" fill="#DDDEDA" stroke="#1c1c1c" stroke-width="1.6" transform="rotate(12 663.2 512)" />
<ellipse cx="663.8" cy="512.5" rx="21.09" ry="28.62" fill="#E6E7E3" stroke="#1c1c1c" stroke-width="1.6" transform="rotate(12 663.8 512.5)" />
<ellipse cx="664.3" cy="513" rx="17.17" ry="24.07" fill="url(#hl1250495)" stroke="#1c1c1c" stroke-width="1.6" transform="rotate(12 664.3 513)" />
<polygon points="480.6,632 697.3,560.6 786.6,521.9 815.9,522.5 837.3,540.6 849.2,564.6 853.2,599.3 846.6,613.9 819.9,671.2 797.3,708.6 801.3,783.2 440.6,783.2 439.2,734.7 444.6,700 457.9,668" fill="#C3C2BD" stroke="#1c1c1c" stroke-width="1.6" stroke-linejoin="round" />
<path d="M 697.3,520.6 L 767.9,494 C 781.3,495.3 791.9,498 799.9,500.6 C 810.6,505.9 818.6,511.3 826.6,516.6 C 834.6,524.6 838.6,529.9 842.6,537.9 C 847.9,548.6 850.6,556.6 851.9,561.9 L 853.2,599.3 L 847.9,612.6 C 850.6,596.6 850.6,577.9 849.2,564.6 C 846.6,556.6 842.6,548.6 837.3,540.6 C 829.3,531.3 823.9,525.9 815.9,522.5 C 805.3,519.8 794.6,520.6 786.6,521.9 L 697.3,560.6 Z" fill="#FFFFFF" stroke="#1c1c1c" stroke-width="1.6" stroke-linejoin="round" stroke-linecap="round" />
<path d="M 697.3,540.6 L 773.3,513.9 C 799.9,511.3 826.6,527.3 845.2,559.3" fill="none" stroke="#1c1c1c" stroke-width="1.3" stroke-linejoin="round" stroke-linecap="round" />
<line x1="697.3" y1="492.6" x2="697.3" y2="560.6" stroke="#1c1c1c" stroke-width="1.6" stroke-linecap="round"/>
<path d="M 162,732 C 162,713.3 166,702.6 187.3,694.6 L 275.3,664 L 336.6,694.6 L 405.9,718.6 C 427.3,732 437.9,753.3 439.2,769.3 L 459.2,780 L 459.2,849.3 L 436.6,857.3 L 376.6,878.1 C 360.6,870.6 341.9,859.9 336.6,855.9 L 327.3,841.3 L 325.9,801.3 L 320.6,790.6 L 203.3,744.8 L 179.3,753.3 L 176.7,758.6 L 175.3,795.9 C 166,780 162,758.6 162,732 Z" fill="url(#shell)" stroke="#1c1c1c" stroke-width="1.6" stroke-linejoin="round" stroke-linecap="round" />
<path d="M 187.3,694.6 L 262,722.6 L 336.6,694.6" fill="none" stroke="#1c1c1c" stroke-width="1.6" stroke-linejoin="round" stroke-linecap="round" />
<line x1="262" y1="722.6" x2="262" y2="758.6" stroke="#1c1c1c" stroke-width="1.6" stroke-linecap="round"/>
<path d="M 262,724 C 310,734.6 336.6,753.3 349.9,774.6 C 357.9,793.3 360.6,833.3 360.6,854.6 L 376.6,877.3" fill="none" stroke="#1c1c1c" stroke-width="1.6" stroke-linejoin="round" stroke-linecap="round" />
<line x1="439.8" y1="737.3" x2="440.6" y2="770.6" stroke="#1c1c1c" stroke-width="3.5" stroke-linecap="round"/>
<path d="M 306,803.9 L 323.3,790.6 L 327.3,806.6 L 328.6,841.3 L 336.6,855.9 L 376.6,878.1 L 436.6,857.3 L 456.6,854.6 L 459.2,902.6 L 456.6,915.9 L 459.2,939.9 L 451.2,981.2 L 445.9,979.9 L 389.9,953.2 L 306,989.2 Z" fill="#514F50" stroke="#1c1c1c" stroke-width="1.6" stroke-linejoin="round" stroke-linecap="round" />
<path d="M 427.3,907.9 C 429.9,902.6 435.2,901.2 440.6,902.6 L 456.6,906.6 L 448.6,926.6 L 451.2,963.9 L 483.2,955.9 L 493.9,963.9 L 459.2,979.9 L 445.9,979.9 L 427.3,942.6 Z" fill="#5A5758" stroke="#1c1c1c" stroke-width="1.6" stroke-linejoin="round" stroke-linecap="round" />
<path d="M 179.3,753.3 L 203.3,744.8 L 320.6,790.6 L 325.9,801.3 L 306,806.6 Z" fill="#5A5658" stroke="#1c1c1c" stroke-width="1.6" stroke-linejoin="round" stroke-linecap="round" />
<path d="M 176.7,760 Q 176.7,752 183.3,752.5 L 302,803.4 Q 307.3,806.6 307.3,813.3 L 306,989.2 L 295.3,990 L 184.7,946.6 Q 176.7,942.6 176.7,935.9 Z" fill="#625E60" stroke="#1c1c1c" stroke-width="1.6" stroke-linejoin="round" stroke-linecap="round" />
<polygon points="194,776 291.3,811.9 291.3,966.6 194,929.2" fill="#B6BAB6" stroke="#1c1c1c" stroke-width="1.6" stroke-linejoin="round" />
<polygon points="199.3,780 288.6,814.6 288.6,963.9 199.3,926.6" fill="#868A86" stroke="#1c1c1c" stroke-width="1.6" stroke-linejoin="round" />
<polygon points="210,931.9 283.3,889.3 287.3,915.9 238,941.2" fill="#C5C9C5" stroke="#1c1c1c" stroke-width="1.6" stroke-linejoin="round" />
<polygon points="199.3,899.9 230,894.6 230,910.6 210,931.9 199.3,926.6" fill="#A9ADA9" stroke="#1c1c1c" stroke-width="1.6" stroke-linejoin="round" />
<polygon points="218,786.6 239.3,794.6 239.3,811.9 218,803.9" fill="#8E928E" stroke="#555" stroke-width="1.6" stroke-linejoin="round" />
<path d="M 634.8,596.6 C 617.7,599.1 589.3,615.1 557.3,640 C 536,661.3 521.8,679.1 511.1,693.3 C 496.9,718.2 489.8,735.9 482.7,757.3 C 473.8,782.1 468.4,799.9 464.9,817.7 C 461.3,835.5 459.5,846.1 459.5,853.2 C 458.5,878.1 459.5,899.4 461.3,917.2 C 464.9,931.4 470.2,938.5 475.5,945.6 C 486.2,956.3 496.9,965.2 511.1,974.1 C 525.3,983 543.1,990.1 557.3,995.4 C 571.5,1000.7 585.7,1004.3 600,1006.8 L 639.1,1008.6 L 668.6,821.9 L 801.8,775 C 801.1,743 797.2,708.6 784.1,673.7 C 774.1,657.7 762.7,644.6 733.2,623.2 C 709.4,614 688.8,604.4 666.8,599.1 Z" fill="url(#pdrum)" stroke="#1c1c1c" stroke-width="1.6" stroke-linejoin="round" stroke-linecap="round" />
<ellipse cx="654.3" cy="815.2" rx="125.12" ry="206.16" fill="#FBFBF8" stroke="#1c1c1c" stroke-width="1.6" transform="rotate(21.4 654.3 815.2)" />
<ellipse cx="668.6" cy="821.9" rx="121.56" ry="193.36" fill="#C3C2BD" stroke="#1c1c1c" stroke-width="1.6" transform="rotate(21.4 668.6 821.9)" />
<g transform="translate(0,0)">
<path d="M 163.7,107.2 L 169.5,99.4 L 189.1,92.6 L 214.5,83.8 L 220.4,72 L 236,65.2 L 251.7,67.1 L 269.3,62.3 L 286.8,51.5 L 298.6,46.6 L 316.2,46.6 L 326.9,51.5 L 333.8,67.1 L 334.7,86.7 L 328.9,98.4 L 316.2,104.3 L 290.8,112.1 L 279,118 L 275.1,127.7 L 259.5,133.6 L 243.8,135.6 L 214.5,143.4 L 198.9,151.2 L 185.2,153.2 L 173.5,145.3 L 164.7,131.7 L 162.7,119.9 Z" fill="#05131D" stroke="#222" stroke-width="1" stroke-linejoin="round" stroke-linecap="round" />
<ellipse cx="183.2" cy="127.7" rx="10.75" ry="16.62" fill="none" stroke="#6a6e72" stroke-width="1.3" transform="rotate(-20 183.2 127.7)" />
<path d="M 243.8,72 C 255.6,80.8 267.3,96.5 267.3,118" fill="none" stroke="#6a6e72" stroke-width="1.3" stroke-linejoin="round" stroke-linecap="round" />
<path d="M 251.7,68.1 C 265.3,78.9 277.1,94.5 278.1,116" fill="none" stroke="#6a6e72" stroke-width="1.3" stroke-linejoin="round" stroke-linecap="round" />
<path d="M 306.4,48.6 C 320.1,57.4 325.9,78.9 322,102.3" fill="none" stroke="#6a6e72" stroke-width="1.3" stroke-linejoin="round" stroke-linecap="round" />
<path d="M 190.1,97.4 C 200.8,108.2 206.7,123.8 202.8,147.3" fill="none" stroke="#6a6e72" stroke-width="1.3" stroke-linejoin="round" stroke-linecap="round" />
<path d="M 239.9,94.5 L 251.7,88.6 L 259.5,94.5 L 247.7,100.4 Z M 204.7,108.2 L 216.5,104.3 L 220.4,110.2 L 208.6,114.1 Z M 271.2,76.9 L 282.9,73 L 286.8,80.8 L 277.1,84.7 Z M 306.4,67.1 L 318.1,63.2 L 322,71.1 L 310.3,75 Z" fill="none" stroke="#6a6e72" stroke-width="1.3" stroke-linejoin="round" stroke-linecap="round" />
<path d="M 308.4,90.6 L 331.8,85.7" fill="none" stroke="#ddd" stroke-width="2" stroke-linejoin="round" stroke-linecap="round" />
<path d="M 171.5,117 L 189.1,113.1" fill="none" stroke="#ddd" stroke-width="2" stroke-linejoin="round" stroke-linecap="round" />
</g>
<path d="M 161.7,354.5 L 164.7,350.6 L 175.4,346.7 L 177.4,338.9 L 189.1,336 L 429.6,240.2 L 443.2,239.2 L 449.1,243.1 L 450.1,260.7 L 460.8,263.6 L 462.8,276.3 L 458.9,280.2 L 200.8,378 L 195,387.8 L 187.1,393.6 L 177.4,391.7 L 175.4,379.9 L 165.6,376 L 161.7,366.3 Z" fill="#05131D" stroke="#222" stroke-width="1" stroke-linejoin="round" stroke-linecap="round" />
<line x1="190.1" y1="342.8" x2="443.2" y2="244.1" stroke="#6a6e72" stroke-width="1.2" stroke-linecap="round"/>
<line x1="192" y1="356.5" x2="450.1" y2="257.8" stroke="#6a6e72" stroke-width="1.2" stroke-linecap="round"/>
<line x1="194" y1="364.3" x2="455" y2="265.6" stroke="#6a6e72" stroke-width="1.2" stroke-linecap="round"/>
<line x1="198.9" y1="376" x2="460.8" y2="276.3" stroke="#6a6e72" stroke-width="1.2" stroke-linecap="round"/>
<path d="M 189.1,336.9 L 192,356.5 L 177.4,362.3 M 192,356.5 L 202.8,362.3 L 200.8,378" fill="none" stroke="#6a6e72" stroke-width="1.2" stroke-linejoin="round" stroke-linecap="round" />
<polygon points="854.2,944 867.3,941.7 867.3,932.2 1188.3,806.6 1202.6,806.6 1207.3,811.3 1207.3,827.9 1219.1,830.3 1219.9,846.9 1207.3,849.2 1207.3,858.7 883.8,984.3 870.8,984.3 867.3,972.5 856.6,971.3 854.2,958.2" fill="#8B8F8B" stroke="#4a4e4a" stroke-width="1.3" stroke-linejoin="round" />
<polygon points="867.3,932.2 1188.3,806.6 1202.6,806.6 883.8,935" fill="#BCC0BC" stroke="#4a4e4a" stroke-width="1.1" stroke-linejoin="round" />
<polygon points="883.8,935 1202.6,806.6 1207.3,811.3 1207.3,827.9 883.8,953.5" fill="#A3A7A3" stroke="#4a4e4a" stroke-width="1.1" stroke-linejoin="round" />
<polygon points="883.8,953.5 1207.3,827.9 1219.1,830.3 893.3,957.1" fill="#BCC0BC" stroke="#4a4e4a" stroke-width="1.1" stroke-linejoin="round" />
<polygon points="893.3,957.1 1219.1,830.3 1219.9,846.9 893.3,973.6" fill="#9DA19D" stroke="#4a4e4a" stroke-width="1.1" stroke-linejoin="round" />
<polygon points="893.3,973.6 1219.9,846.9 1207.3,849.2 1207.3,858.7 883.8,984.3 883.8,973.6" fill="#868A86" stroke="#4a4e4a" stroke-width="1.1" stroke-linejoin="round" />
<path d="M 854.2,944 L 867.3,941.7 L 867.3,932.2 L 883.8,935 L 883.8,953.5 L 893.3,957.1 L 893.3,973.6 L 883.8,973.6 L 883.8,984.3 L 870.8,984.3 L 867.3,972.5 L 856.6,971.3 L 854.2,958.2 Z" fill="#9A9E9A" stroke="#4a4e4a" stroke-width="1.3" stroke-linejoin="round" stroke-linecap="round" />
</g>
<path d="M 1473,664.3 L 1482.8,656.1 L 1525.2,643.1 L 1531.7,633.3 L 1554.5,623.5 L 1567.5,626.8 L 1668.5,587.7 L 1681.6,581.2 L 1694.6,584.4 L 1706,595.8 L 1709.3,612.1 L 1707.6,628.4 L 1701.1,636.6 L 1616.4,667.5 L 1590.3,680.6 L 1583.8,690.3 L 1561,696.8 L 1554.5,692 L 1508.9,711.5 L 1495.8,713.1 L 1479.5,703.4 L 1473,690.3 Z" fill="url(#bp1)" stroke="#223" stroke-width="1.2" stroke-linejoin="round" stroke-linecap="round" />
<path d="M 1557.7,626.8 C 1570.8,644.7 1577.3,667.5 1570.8,693.6 M 1572.4,625.2 C 1585.4,641.5 1590.3,664.3 1585.4,688.7 M 1499.1,657.7 C 1512.1,670.8 1515.4,690.3 1508.9,709.9" fill="none" stroke="#1b2a55" stroke-width="1.3" stroke-linejoin="round" stroke-linecap="round" />
<path d="M 1616.4,626.8 L 1655.5,612.1 L 1658.8,620.3 L 1619.7,634.9 Z M 1637.6,630.1 L 1650.6,667.5 M 1649,625.2 L 1663.6,662.6 M 1684.8,599.1 L 1697.9,595.8 L 1701.1,605.6 L 1688.1,608.9 Z" fill="none" stroke="#1b2a55" stroke-width="1.3" stroke-linejoin="round" stroke-linecap="round" />
<path d="M 1681.6,625.2 L 1707.6,620.3" fill="none" stroke="#eef" stroke-width="2" stroke-linejoin="round" stroke-linecap="round" />
<path d="M 1477.9,675.7 L 1499.1,672.4" fill="none" stroke="#eef" stroke-width="2" stroke-linejoin="round" stroke-linecap="round" />
<path d="M 1474.7,928.2 C 1476.3,905.4 1486.1,889.1 1512.1,882.6 L 1899.9,732.7 C 1906.4,731.1 1912.9,732.7 1916.2,734.3 L 1968.3,757.1 C 1981.3,765.3 1987.8,781.6 1987.8,794.6 C 1986.2,814.1 1974.8,830.4 1961.8,833.7 L 1567.5,986.8 C 1561,989.4 1556.1,990.1 1554.5,990.1 L 1495.8,964 C 1482.8,957.5 1474.7,944.5 1474.7,928.2 Z" fill="url(#b7p)" stroke="#333" stroke-width="1.3" stroke-linejoin="round" stroke-linecap="round" />
<path d="M 1567.5,986.8 C 1544.7,980.3 1534.9,957.5 1541.5,934.7 C 1548,915.2 1564.3,905.4 1580.6,905.4 L 1948.7,758.8 C 1961.8,757.1 1974.8,762 1984.6,771.8" fill="none" stroke="#444" stroke-width="1.2" stroke-linejoin="round" stroke-linecap="round" />
<ellipse cx="1565.9" cy="949.4" rx="25.41" ry="35.19" fill="#EFEFEF" stroke="#444" stroke-width="1.3" transform="rotate(14 1565.9 949.4)" />
<ellipse cx="1566.5" cy="950" rx="22.11" ry="31.32" fill="#F6F6F6" stroke="#555" stroke-width="1.1" transform="rotate(14 1566.5 950)" />
<ellipse cx="1567.2" cy="950.7" rx="18.3" ry="26.74" fill="url(#rg3251195)" stroke="#444" stroke-width="1.3" transform="rotate(14 1567.2 950.7)" />
<ellipse cx="1630.2" cy="923.6" rx="25.41" ry="35.19" fill="#EFEFEF" stroke="#444" stroke-width="1.3" transform="rotate(14 1630.2 923.6)" />
<ellipse cx="1630.9" cy="924.3" rx="22.11" ry="31.32" fill="#F6F6F6" stroke="#555" stroke-width="1.1" transform="rotate(14 1630.9 924.3)" />
<ellipse cx="1631.5" cy="924.9" rx="18.3" ry="26.74" fill="url(#rg5221116)" stroke="#444" stroke-width="1.3" transform="rotate(14 1631.5 924.9)" />
<ellipse cx="1694.6" cy="897.9" rx="25.41" ry="35.19" fill="#EFEFEF" stroke="#444" stroke-width="1.3" transform="rotate(14 1694.6 897.9)" />
<ellipse cx="1695.2" cy="898.5" rx="22.11" ry="31.32" fill="#F6F6F6" stroke="#555" stroke-width="1.1" transform="rotate(14 1695.2 898.5)" />
<ellipse cx="1695.9" cy="899.2" rx="18.3" ry="26.74" fill="url(#rg7201037)" stroke="#444" stroke-width="1.3" transform="rotate(14 1695.9 899.2)" />
<ellipse cx="1758.9" cy="872.1" rx="25.41" ry="35.19" fill="#EFEFEF" stroke="#444" stroke-width="1.3" transform="rotate(14 1758.9 872.1)" />
<ellipse cx="1759.6" cy="872.8" rx="22.11" ry="31.32" fill="#F6F6F6" stroke="#555" stroke-width="1.1" transform="rotate(14 1759.6 872.8)" />
<ellipse cx="1760.3" cy="873.4" rx="18.3" ry="26.74" fill="url(#rg917958)" stroke="#444" stroke-width="1.3" transform="rotate(14 1760.3 873.4)" />
<ellipse cx="1823.3" cy="846.4" rx="25.41" ry="35.19" fill="#EFEFEF" stroke="#444" stroke-width="1.3" transform="rotate(14 1823.3 846.4)" />
<ellipse cx="1824" cy="847.1" rx="22.11" ry="31.32" fill="#F6F6F6" stroke="#555" stroke-width="1.1" transform="rotate(14 1824 847.1)" />
<ellipse cx="1824.6" cy="847.7" rx="18.3" ry="26.74" fill="url(#rg1115879)" stroke="#444" stroke-width="1.3" transform="rotate(14 1824.6 847.7)" />
<ellipse cx="1887.7" cy="820.7" rx="25.41" ry="35.19" fill="#EFEFEF" stroke="#444" stroke-width="1.3" transform="rotate(14 1887.7 820.7)" />
<ellipse cx="1888.3" cy="821.3" rx="22.11" ry="31.32" fill="#F6F6F6" stroke="#555" stroke-width="1.1" transform="rotate(14 1888.3 821.3)" />
<ellipse cx="1889" cy="822" rx="18.3" ry="26.74" fill="url(#rg1312800)" stroke="#444" stroke-width="1.3" transform="rotate(14 1889 822)" />
<ellipse cx="1952" cy="794.9" rx="25.41" ry="35.19" fill="#EFEFEF" stroke="#444" stroke-width="1.3" transform="rotate(14 1952 794.9)" />
<ellipse cx="1952.7" cy="795.6" rx="22.11" ry="31.32" fill="#F6F6F6" stroke="#555" stroke-width="1.1" transform="rotate(14 1952.7 795.6)" />
<ellipse cx="1953.3" cy="796.2" rx="18.3" ry="26.74" fill="url(#rg1510721)" stroke="#444" stroke-width="1.3" transform="rotate(14 1953.3 796.2)" />
<g transform="translate(1654.1,837.6)">
<path d="M 163.7,107.2 L 169.5,99.4 L 189.1,92.6 L 214.5,83.8 L 220.4,72 L 236,65.2 L 251.7,67.1 L 269.3,62.3 L 286.8,51.5 L 298.6,46.6 L 316.2,46.6 L 326.9,51.5 L 333.8,67.1 L 334.7,86.7 L 328.9,98.4 L 316.2,104.3 L 290.8,112.1 L 279,118 L 275.1,127.7 L 259.5,133.6 L 243.8,135.6 L 214.5,143.4 L 198.9,151.2 L 185.2,153.2 L 173.5,145.3 L 164.7,131.7 L 162.7,119.9 Z" fill="#05131D" stroke="#222" stroke-width="1" stroke-linejoin="round" stroke-linecap="round" />
<ellipse cx="183.2" cy="127.7" rx="10.75" ry="16.62" fill="none" stroke="#6a6e72" stroke-width="1.3" transform="rotate(-20 183.2 127.7)" />
<path d="M 243.8,72 C 255.6,80.8 267.3,96.5 267.3,118" fill="none" stroke="#6a6e72" stroke-width="1.3" stroke-linejoin="round" stroke-linecap="round" />
<path d="M 251.7,68.1 C 265.3,78.9 277.1,94.5 278.1,116" fill="none" stroke="#6a6e72" stroke-width="1.3" stroke-linejoin="round" stroke-linecap="round" />
<path d="M 306.4,48.6 C 320.1,57.4 325.9,78.9 322,102.3" fill="none" stroke="#6a6e72" stroke-width="1.3" stroke-linejoin="round" stroke-linecap="round" />
<path d="M 190.1,97.4 C 200.8,108.2 206.7,123.8 202.8,147.3" fill="none" stroke="#6a6e72" stroke-width="1.3" stroke-linejoin="round" stroke-linecap="round" />
<path d="M 239.9,94.5 L 251.7,88.6 L 259.5,94.5 L 247.7,100.4 Z M 204.7,108.2 L 216.5,104.3 L 220.4,110.2 L 208.6,114.1 Z M 271.2,76.9 L 282.9,73 L 286.8,80.8 L 277.1,84.7 Z M 306.4,67.1 L 318.1,63.2 L 322,71.1 L 310.3,75 Z" fill="none" stroke="#6a6e72" stroke-width="1.3" stroke-linejoin="round" stroke-linecap="round" />
<path d="M 308.4,90.6 L 331.8,85.7" fill="none" stroke="#ddd" stroke-width="2" stroke-linejoin="round" stroke-linecap="round" />
<path d="M 171.5,117 L 189.1,113.1" fill="none" stroke="#ddd" stroke-width="2" stroke-linejoin="round" stroke-linecap="round" />
</g>
<path d="M 1588,1950.6 L 1637.7,1929.3 C 1641.3,1926.9 1641.9,1923.3 1640.1,1919.2 L 1634.2,1918.6 L 1590.3,1937.6 Z" fill="#B5B9B5" stroke="#333" stroke-width="1.2" stroke-linejoin="round" stroke-linecap="round" />
<path d="M 1588,1950.6 L 1637.7,1929.3 C 1641.3,1926.9 1641.9,1923.3 1641.3,1931.6 L 1637.7,1937.6 L 1583.2,1960.1 L 1573.7,1968.4 Z" fill="#8A8E8A" stroke="#333" stroke-width="1.2" stroke-linejoin="round" stroke-linecap="round" />
<polygon points="1586.8,1894.9 1633,1875.4 1633.6,1925.7 1596.3,1938.2" fill="#8C908C" stroke="#333" stroke-width="1.2" stroke-linejoin="round" />
<path d="M 1618.8,1883.1 L 1619.4,1924.5 M 1624.7,1880.7 L 1625.3,1922.2" fill="none" stroke="#333" stroke-width="2" stroke-linejoin="round" stroke-linecap="round" />
<path d="M 1558.3,1850.5 L 1499.1,1870 C 1483.7,1880.7 1474.2,1896.1 1472.4,1913.9 C 1472.4,1926.9 1476.6,1937.6 1483.7,1943.5 L 1542.9,1970.7 L 1557.2,1975.5 C 1566.6,1974.3 1578.5,1961.3 1588,1949.4 C 1595.1,1931.6 1593.9,1910.3 1586.8,1894.9 L 1564.3,1893.1 L 1612.8,1874.8 L 1578.5,1860.5 Z" fill="url(#cb1)" stroke="#333" stroke-width="1.2" stroke-linejoin="round" stroke-linecap="round" />
<polygon points="1564.3,1893.1 1612.8,1874.8 1633,1875.4 1586.8,1895.1" fill="#A3A7A3" stroke="#333" stroke-width="1.2" stroke-linejoin="round" />
<path d="M 1558.9,1855.8 C 1558.9,1867.7 1578.5,1874.8 1599.8,1874.8 C 1623.5,1874.8 1640.7,1866.5 1640.7,1859.4 L 1640.7,1853.4 L 1558.9,1850.5 Z" fill="#8A8E8A" stroke="#333" stroke-width="1.2" stroke-linejoin="round" stroke-linecap="round" />
<ellipse cx="1599.8" cy="1853.4" rx="40.88" ry="17.54" fill="#AEB2AE" stroke="#333" stroke-width="1.2" />
<path d="M 1573.7,1849.3 L 1583.2,1847.5 L 1585.6,1845.7 L 1616.4,1845.7 L 1618.8,1848.1 L 1625.9,1849.9 L 1625.3,1857.6 L 1617.6,1859.4 L 1615.2,1861.7 L 1585.6,1861.7 L 1583.2,1859.4 L 1574.3,1857.6 Z" fill="#7A7E7A" stroke="#3a3a3a" stroke-width="1.2" stroke-linejoin="round" stroke-linecap="round" />
<path d="M 1588.6,1846.3 L 1588.6,1861.7 M 1612.3,1846.3 L 1612.3,1861.7" fill="none" stroke="#3a3a3a" stroke-width="3" stroke-linejoin="round" stroke-linecap="round" />
<ellipse cx="1561.9" cy="1934" rx="21.92" ry="34.36" fill="#9EA29E" stroke="#333" stroke-width="1.4" transform="rotate(14 1561.9 1934)" />
<ellipse cx="1561.3" cy="1933.4" rx="19.55" ry="31.04" fill="#8E928E" stroke="#333" stroke-width="1.2" transform="rotate(14 1561.3 1933.4)" />
<ellipse cx="1560.7" cy="1932.2" rx="17.18" ry="27.01" fill="url(#cbh)" stroke="#333" stroke-width="1.4" transform="rotate(14 1560.7 1932.2)" />
<path d="M 1775.6,1180.9 L 1807.7,1161.7 L 1823.7,1158.5 L 1839.7,1168.1 L 1849.4,1184.1 L 1849.4,1206.5 L 1836.5,1216.2 L 1794.9,1230.6 Z" fill="#05131D" stroke="#222" stroke-width="1.2" stroke-linejoin="round" stroke-linecap="round" />
<path d="M 1820.5,1160.1 C 1836.5,1174.5 1842.9,1196.9 1834.9,1216.2 M 1807.7,1180.9 L 1823.7,1176.1 L 1826.9,1187.3" fill="none" stroke="#6a6e72" stroke-width="1.3" stroke-linejoin="round" stroke-linecap="round" />
<path d="M 1792.3,1341.2 L 1807.7,1331.5 L 1820.5,1328.3 L 1839.7,1337.9 L 1849.4,1357.2 L 1847.8,1376.4 L 1833.3,1386 L 1793.3,1400.4 Z" fill="#0B55C0" stroke="#223" stroke-width="1.2" stroke-linejoin="round" stroke-linecap="round" />
<path d="M 1820.5,1329.9 C 1836.5,1344.4 1842.9,1366.8 1833.3,1386 M 1820.5,1350.8 L 1836.5,1346 L 1838.1,1357.2" fill="none" stroke="#1b2a55" stroke-width="1.3" stroke-linejoin="round" stroke-linecap="round" />
<path d="M 1823.7,1373.2 L 1847.8,1366.8" fill="none" stroke="#eef" stroke-width="2" stroke-linejoin="round" stroke-linecap="round" />
<path d="M 1792.3,1509.4 L 1807.7,1499.8 L 1820.5,1496.6 L 1839.7,1506.2 L 1849.4,1525.4 L 1847.8,1544.7 L 1833.3,1554.3 L 1793.3,1568.7 Z" fill="#0B55C0" stroke="#223" stroke-width="1.2" stroke-linejoin="round" stroke-linecap="round" />
<path d="M 1820.5,1498.2 C 1836.5,1512.6 1842.9,1535.1 1833.3,1554.3 M 1820.5,1519 L 1836.5,1514.2 L 1838.1,1525.4" fill="none" stroke="#1b2a55" stroke-width="1.3" stroke-linejoin="round" stroke-linecap="round" />
<path d="M 1823.7,1541.5 L 1847.8,1535.1" fill="none" stroke="#eef" stroke-width="2" stroke-linejoin="round" stroke-linecap="round" />
<path d="M 1792.3,1677.1 L 1807.7,1667.4 L 1820.5,1664.2 L 1839.7,1673.8 L 1849.4,1693.1 L 1847.8,1712.3 L 1833.3,1721.9 L 1793.3,1736.3 Z" fill="#0B55C0" stroke="#223" stroke-width="1.2" stroke-linejoin="round" stroke-linecap="round" />
<path d="M 1820.5,1665.8 C 1836.5,1680.3 1842.9,1702.7 1833.3,1721.9 M 1820.5,1686.7 L 1836.5,1681.9 L 1838.1,1693.1" fill="none" stroke="#1b2a55" stroke-width="1.3" stroke-linejoin="round" stroke-linecap="round" />
<path d="M 1823.7,1709.1 L 1847.8,1702.7" fill="none" stroke="#eef" stroke-width="2" stroke-linejoin="round" stroke-linecap="round" />
<path d="M 1726,1245 L 1793.3,1227.4 L 1793.3,1743.4 C 1790.1,1761 1745.2,1773.8 1730.8,1775.4 L 1726,1761 Z" fill="url(#bv1s)" stroke="none" stroke-width="0" stroke-linejoin="round" stroke-linecap="round" />
<path d="M 1793.3,1227.4 L 1793.3,1743.4 C 1790.1,1761 1745.2,1773.8 1730.8,1775.4 L 1726,1761" fill="none" stroke="#333" stroke-width="1.3" stroke-linejoin="round" stroke-linecap="round" />
<path d="M 1674.7,1206.5 C 1678.5,1201.7 1684.9,1198.5 1694.6,1195.3 L 1753.2,1174.5 C 1771.5,1172.9 1787.5,1196.9 1793.3,1227.4 L 1726,1245.6 C 1722.8,1222.6 1709.9,1203.3 1674.7,1206.5 Z" fill="#FFFFFF" stroke="none" stroke-width="0" stroke-linejoin="round" stroke-linecap="round" />
<path d="M 1674.7,1206.5 C 1678.5,1201.7 1684.9,1198.5 1694.6,1195.3 L 1753.2,1174.5 C 1771.5,1172.9 1787.5,1196.9 1793.3,1227.4" fill="none" stroke="#333" stroke-width="1.3" stroke-linejoin="round" stroke-linecap="round" />
<path d="M 1668.9,1225.8 C 1668.9,1209.7 1678.5,1198.5 1697.8,1198.5 C 1716.3,1200.1 1726,1219.4 1726,1245 L 1726,1761 C 1724.4,1777.1 1709.9,1785.1 1703.5,1783.5 C 1681.7,1777.1 1668.9,1761 1668.9,1735.4 Z" fill="#F6F6F6" stroke="#333" stroke-width="1.3" stroke-linejoin="round" stroke-linecap="round" />
<ellipse cx="1698.7" cy="1321.9" rx="26.28" ry="41.03" fill="#EFEFEF" stroke="#444" stroke-width="1.3" transform="rotate(-8 1698.7 1321.9)" />
<ellipse cx="1699.4" cy="1322.6" rx="22.87" ry="36.51" fill="#F6F6F6" stroke="#555" stroke-width="1.1" transform="rotate(-8 1699.4 1322.6)" />
<ellipse cx="1700" cy="1323.2" rx="18.92" ry="31.18" fill="url(#rg620630)" stroke="#444" stroke-width="1.3" transform="rotate(-8 1700 1323.2)" />
<ellipse cx="1700.3" cy="1491.8" rx="26.28" ry="41.03" fill="#EFEFEF" stroke="#444" stroke-width="1.3" transform="rotate(-8 1700.3 1491.8)" />
<ellipse cx="1701" cy="1492.4" rx="22.87" ry="36.51" fill="#F6F6F6" stroke="#555" stroke-width="1.1" transform="rotate(-8 1701 1492.4)" />
<ellipse cx="1701.6" cy="1493.1" rx="18.92" ry="31.18" fill="url(#rg6251160)" stroke="#444" stroke-width="1.3" transform="rotate(-8 1701.6 1493.1)" />
<ellipse cx="1700.3" cy="1661.7" rx="26.28" ry="41.03" fill="#EFEFEF" stroke="#444" stroke-width="1.3" transform="rotate(-8 1700.3 1661.7)" />
<ellipse cx="1701" cy="1662.3" rx="22.87" ry="36.51" fill="#F6F6F6" stroke="#555" stroke-width="1.1" transform="rotate(-8 1701 1662.3)" />
<ellipse cx="1701.6" cy="1662.9" rx="18.92" ry="31.18" fill="url(#rg6251690)" stroke="#444" stroke-width="1.3" transform="rotate(-8 1701.6 1662.9)" />
<ellipse cx="1698.7" cy="1237" rx="27.24" ry="41.03" fill="#F0F0F0" stroke="#444" stroke-width="1.3" transform="rotate(-8 1698.7 1237)" />
<ellipse cx="1700.3" cy="1237" rx="21.79" ry="33.65" fill="#05131D" stroke="#6a6e72" stroke-width="1.3" transform="rotate(-8 1700.3 1237)" />
<ellipse cx="1699.4" cy="1235.4" rx="12.82" ry="19.23" fill="none" stroke="#6a6e72" stroke-width="1.2" transform="rotate(-8 1699.4 1235.4)" />
<ellipse cx="1699.4" cy="1410.1" rx="26.28" ry="41.03" fill="#EFEFEF" stroke="#444" stroke-width="1.3" transform="rotate(-8 1699.4 1410.1)" />
<ellipse cx="1700" cy="1410.7" rx="22.87" ry="36.51" fill="#F6F6F6" stroke="#555" stroke-width="1.1" transform="rotate(-8 1700 1410.7)" />
<ellipse cx="1700.6" cy="1411.3" rx="18.92" ry="31.18" fill="url(#rg622905)" stroke="#444" stroke-width="1.3" transform="rotate(-8 1700.6 1411.3)" />
<path d="M 1612.2,1418.1 L 1615.4,1408.5 L 1641,1398.8 L 1679.5,1386 L 1692.3,1379.6 L 1708.3,1379.6 L 1721.2,1389.2 L 1724.4,1408.5 L 1722.8,1427.7 L 1705.1,1440.5 L 1679.5,1446.9 L 1660.3,1453.3 L 1641,1461.3 L 1625,1456.5 L 1613.8,1440.5 Z" fill="url(#bl0)" stroke="#223" stroke-width="1.2" stroke-linejoin="round" stroke-linecap="round" />
<path d="M 1641,1400.4 C 1653.8,1414.9 1657.1,1440.5 1650.6,1458.1 M 1692.3,1402.1 L 1717.9,1395.6 L 1711.5,1427.7 M 1650.6,1418.1 L 1673.1,1410.1 L 1676.3,1427.7" fill="none" stroke="#1b2a55" stroke-width="1.3" stroke-linejoin="round" stroke-linecap="round" />
<path d="M 1615.4,1424.5 L 1637.8,1419.7" fill="none" stroke="#eef" stroke-width="2" stroke-linejoin="round" stroke-linecap="round" />
<ellipse cx="1699.4" cy="1579" rx="26.28" ry="41.03" fill="#EFEFEF" stroke="#444" stroke-width="1.3" transform="rotate(-8 1699.4 1579)" />
<ellipse cx="1700" cy="1579.6" rx="22.87" ry="36.51" fill="#F6F6F6" stroke="#555" stroke-width="1.1" transform="rotate(-8 1700 1579.6)" />
<ellipse cx="1700.6" cy="1580.3" rx="18.92" ry="31.18" fill="url(#rg6221432)" stroke="#444" stroke-width="1.3" transform="rotate(-8 1700.6 1580.3)" />
<path d="M 1612.2,1587 L 1615.4,1577.4 L 1641,1567.8 L 1679.5,1554.9 L 1692.3,1548.5 L 1708.3,1548.5 L 1721.2,1558.1 L 1724.4,1577.4 L 1722.8,1596.6 L 1705.1,1609.4 L 1679.5,1615.8 L 1660.3,1622.2 L 1641,1630.3 L 1625,1625.4 L 1613.8,1609.4 Z" fill="url(#bl527)" stroke="#223" stroke-width="1.2" stroke-linejoin="round" stroke-linecap="round" />
<path d="M 1641,1569.4 C 1653.8,1583.8 1657.1,1609.4 1650.6,1627.1 M 1692.3,1571 L 1717.9,1564.6 L 1711.5,1596.6 M 1650.6,1587 L 1673.1,1579 L 1676.3,1596.6" fill="none" stroke="#1b2a55" stroke-width="1.3" stroke-linejoin="round" stroke-linecap="round" />
<path d="M 1615.4,1593.4 L 1637.8,1588.6" fill="none" stroke="#eef" stroke-width="2" stroke-linejoin="round" stroke-linecap="round" />
<ellipse cx="1699.4" cy="1746.6" rx="26.28" ry="41.03" fill="#EFEFEF" stroke="#444" stroke-width="1.3" transform="rotate(-8 1699.4 1746.6)" />
<ellipse cx="1700" cy="1747.2" rx="22.87" ry="36.51" fill="#F6F6F6" stroke="#555" stroke-width="1.1" transform="rotate(-8 1700 1747.2)" />
<ellipse cx="1700.6" cy="1747.9" rx="18.92" ry="31.18" fill="url(#rg6221955)" stroke="#444" stroke-width="1.3" transform="rotate(-8 1700.6 1747.9)" />
<path d="M 1612.2,1754.6 L 1615.4,1745 L 1641,1735.4 L 1679.5,1722.6 L 1692.3,1716.2 L 1708.3,1716.2 L 1721.2,1725.8 L 1724.4,1745 L 1722.8,1764.2 L 1705.1,1777.1 L 1679.5,1783.5 L 1660.3,1789.9 L 1641,1797.9 L 1625,1793.1 L 1613.8,1777.1 Z" fill="url(#bl1050)" stroke="#223" stroke-width="1.2" stroke-linejoin="round" stroke-linecap="round" />
<path d="M 1641,1737 C 1653.8,1751.4 1657.1,1777.1 1650.6,1794.7 M 1692.3,1738.6 L 1717.9,1732.2 L 1711.5,1764.2 M 1650.6,1754.6 L 1673.1,1746.6 L 1676.3,1764.2" fill="none" stroke="#1b2a55" stroke-width="1.3" stroke-linejoin="round" stroke-linecap="round" />
<path d="M 1615.4,1761 L 1637.8,1756.2" fill="none" stroke="#eef" stroke-width="2" stroke-linejoin="round" stroke-linecap="round" />
<path d="M 1801.6,2162.9 L 1829.7,2146.4 L 1846.2,2143.1 L 1862.6,2151.3 L 1872.5,2169.5 L 1872.5,2192.5 L 1859.3,2202.4 L 1818.1,2215.6 Z" fill="#05131D" stroke="#222" stroke-width="1.2" stroke-linejoin="round" stroke-linecap="round" />
<path d="M 1844.5,2144.7 C 1861,2159.6 1865.9,2182.6 1857.7,2202.4 M 1829.7,2166.2 L 1846.2,2161.2 L 1849.5,2172.7" fill="none" stroke="#6a6e72" stroke-width="1.3" stroke-linejoin="round" stroke-linecap="round" />
<path d="M 1818.1,2331 L 1833,2317.8 L 1846.2,2312.9 L 1862.6,2321.1 L 1872.5,2340.9 L 1872.5,2364 L 1859.3,2373.8 L 1818.1,2383.7 Z" fill="#0B55C0" stroke="#223" stroke-width="1.2" stroke-linejoin="round" stroke-linecap="round" />
<path d="M 1844.5,2314.5 C 1861,2331 1865.9,2350.8 1857.7,2372.2 M 1844.5,2337.6 L 1861,2332.6 L 1862.6,2344.2" fill="none" stroke="#1b2a55" stroke-width="1.3" stroke-linejoin="round" stroke-linecap="round" />
<path d="M 1846.2,2355.7 L 1870.9,2350.1" fill="none" stroke="#eef" stroke-width="2" stroke-linejoin="round" stroke-linecap="round" />
<path d="M 1818.1,2459.6 L 1849.5,2469.5 C 1862.6,2474.4 1872.5,2482.6 1879.1,2499.1 C 1882.4,2512.3 1883.1,2520.5 1882.4,2525.5 C 1880.8,2535.4 1877.5,2542 1872.5,2545.3 L 1849.5,2555.2 L 1818.1,2565.1 Z" fill="url(#cr0)" stroke="#333" stroke-width="1.2" stroke-linejoin="round" stroke-linecap="round" />
<path d="M 1818.1,2627.7 L 1849.5,2637.6 C 1862.6,2642.5 1872.5,2650.8 1879.1,2667.3 C 1882.4,2680.4 1883.1,2688.7 1882.4,2693.6 C 1880.8,2703.5 1877.5,2710.1 1872.5,2713.4 L 1849.5,2723.3 L 1818.1,2733.2 Z" fill="url(#cr510)" stroke="#333" stroke-width="1.2" stroke-linejoin="round" stroke-linecap="round" />
<path d="M 1750.5,2232.1 L 1818.1,2214 L 1818.1,2728.2 C 1814.8,2746.4 1770.3,2759.6 1755.5,2761.2 L 1750.5,2746.4 Z" fill="url(#bv2s)" stroke="none" stroke-width="0" stroke-linejoin="round" stroke-linecap="round" />
<path d="M 1818.1,2214 L 1818.1,2728.2 C 1814.8,2746.4 1770.3,2759.6 1755.5,2761.2 L 1750.5,2746.4" fill="none" stroke="#333" stroke-width="1.3" stroke-linejoin="round" stroke-linecap="round" />
<path d="M 1698.8,2192.5 C 1702.7,2187.6 1709.3,2184.3 1719.2,2181 L 1779.6,2159.6 C 1798.4,2157.9 1814.8,2182.6 1818.1,2214 L 1750.5,2232.7 C 1747.3,2209 1734.1,2189.2 1698.8,2192.5 Z" fill="#FFFFFF" stroke="none" stroke-width="0" stroke-linejoin="round" stroke-linecap="round" />
<path d="M 1698.8,2192.5 C 1702.7,2187.6 1709.3,2184.3 1719.2,2181 L 1779.6,2159.6 C 1798.4,2157.9 1814.8,2182.6 1818.1,2214" fill="none" stroke="#333" stroke-width="1.3" stroke-linejoin="round" stroke-linecap="round" />
<path d="M 1692.9,2212.3 C 1692.9,2195.8 1702.7,2184.3 1722.5,2184.3 C 1740.7,2185.9 1750.5,2205.7 1750.5,2232.1 L 1750.5,2746.4 C 1748.9,2762.9 1734.1,2771.1 1727.5,2769.5 C 1706,2762.9 1692.9,2746.4 1692.9,2720 Z" fill="#F6F6F6" stroke="#333" stroke-width="1.3" stroke-linejoin="round" stroke-linecap="round" />
<ellipse cx="1722.5" cy="2304.6" rx="27.03" ry="42.2" fill="#EFEFEF" stroke="#444" stroke-width="1.3" transform="rotate(-8 1722.5 2304.6)" />
<ellipse cx="1723.2" cy="2305.3" rx="23.52" ry="37.56" fill="#F6F6F6" stroke="#555" stroke-width="1.1" transform="rotate(-8 1723.2 2305.3)" />
<ellipse cx="1723.8" cy="2305.9" rx="19.46" ry="32.07" fill="url(#rg675560)" stroke="#444" stroke-width="1.3" transform="rotate(-8 1723.8 2305.9)" />
<ellipse cx="1723.5" cy="2474.4" rx="27.03" ry="42.2" fill="#EFEFEF" stroke="#444" stroke-width="1.3" transform="rotate(-8 1723.5 2474.4)" />
<ellipse cx="1724.2" cy="2475.1" rx="23.52" ry="37.56" fill="#F6F6F6" stroke="#555" stroke-width="1.1" transform="rotate(-8 1724.2 2475.1)" />
<ellipse cx="1724.8" cy="2475.7" rx="19.46" ry="32.07" fill="url(#rg6781075)" stroke="#444" stroke-width="1.3" transform="rotate(-8 1724.8 2475.7)" />
<ellipse cx="1724.2" cy="2644.2" rx="27.03" ry="42.2" fill="#EFEFEF" stroke="#444" stroke-width="1.3" transform="rotate(-8 1724.2 2644.2)" />
<ellipse cx="1724.8" cy="2644.8" rx="23.52" ry="37.56" fill="#F6F6F6" stroke="#555" stroke-width="1.1" transform="rotate(-8 1724.8 2644.8)" />
<ellipse cx="1725.5" cy="2645.5" rx="19.46" ry="32.07" fill="url(#rg6801590)" stroke="#444" stroke-width="1.3" transform="rotate(-8 1725.5 2645.5)" />
<ellipse cx="1721.5" cy="2220.5" rx="28.02" ry="41.21" fill="#F0F0F0" stroke="#444" stroke-width="1.3" transform="rotate(-8 1721.5 2220.5)" />
<ellipse cx="1723.2" cy="2220.5" rx="22.42" ry="33.96" fill="#05131D" stroke="#6a6e72" stroke-width="1.3" transform="rotate(-8 1723.2 2220.5)" />
<ellipse cx="1722.2" cy="2218.9" rx="13.19" ry="19.78" fill="none" stroke="#6a6e72" stroke-width="1.2" transform="rotate(-8 1722.2 2218.9)" />
<path d="M 1580.8,2406.8 L 1584.1,2423.3 L 1631.9,2446.4 L 1664.8,2461.2 L 1671.4,2446.4 L 1638.5,2426.6 L 1582.4,2403.5 Z" fill="#9CA09C" stroke="#333" stroke-width="1.2" stroke-linejoin="round" stroke-linecap="round" />
<polygon points="1588.4,2357.4 1638.5,2370.5 1638.5,2416.7 1588.4,2406.8" fill="#8C908C" stroke="#333" stroke-width="1.2" stroke-linejoin="round" />
<path d="M 1597.3,2364 L 1597.3,2405.2 M 1603.8,2365.6 L 1603.8,2406.8" fill="none" stroke="#333" stroke-width="1.6" stroke-linejoin="round" stroke-linecap="round" />
<path d="M 1658.2,2335.9 L 1711,2352.4 C 1730.8,2362.3 1745.6,2380.4 1748.9,2400.2 C 1750.5,2413.4 1747.3,2423.3 1744,2428.2 L 1697.8,2444.7 L 1664.8,2459.6 C 1645.1,2456.3 1628.6,2436.5 1626.9,2410.1 C 1626.9,2393.6 1631.9,2380.4 1641.8,2370.5 Z" fill="url(#cl0)" stroke="#333" stroke-width="1.2" stroke-linejoin="round" stroke-linecap="round" />
<path d="M 1580.1,2339.2 L 1580.1,2352.4 C 1582.4,2364 1608.8,2370.5 1625.3,2369.9 C 1645.1,2367.9 1661.5,2360.7 1663.2,2350.8 L 1663.2,2339.2 Z" fill="#8F938F" stroke="#333" stroke-width="1.2" stroke-linejoin="round" stroke-linecap="round" />
<ellipse cx="1621.3" cy="2339.2" rx="41.54" ry="17.14" fill="#AEB2AE" stroke="#333" stroke-width="1.2" />
<path d="M 1600.5,2335.9 L 1612.1,2334.3 L 1613.7,2331 L 1630.2,2331 L 1631.9,2334.3 L 1643.4,2335.9 L 1641.8,2344.2 L 1631.2,2345.8 L 1630.2,2348.1 L 1613.7,2348.1 L 1612.1,2345.8 L 1601.5,2344.2 Z" fill="#7A7E7A" stroke="#3a3a3a" stroke-width="1.1" stroke-linejoin="round" stroke-linecap="round" />
<ellipse cx="1657.6" cy="2415.1" rx="30.33" ry="41.21" fill="#9DA19D" stroke="#333" stroke-width="1.3" transform="rotate(-10 1657.6 2415.1)" />
<ellipse cx="1657.6" cy="2415.1" rx="26.37" ry="36.26" fill="#B5B9B5" stroke="#444" stroke-width="1.1" transform="rotate(-10 1657.6 2415.1)" />
<ellipse cx="1658.2" cy="2415.7" rx="21.76" ry="30.99" fill="#0F5FD2" stroke="#223" stroke-width="1.2" transform="rotate(-10 1658.2 2415.7)" />
<path d="M 1641.8,2410.1 C 1648.4,2400.2 1664.8,2400.2 1674.7,2413.4 L 1673.1,2426.6 C 1664.8,2436.5 1651.6,2433.2 1643.4,2423.3 Z" fill="#083F96" stroke="#223" stroke-width="1.1" stroke-linejoin="round" stroke-linecap="round" />
<path d="M 1580.8,2571.6 L 1584.1,2588.1 L 1631.9,2611.2 L 1664.8,2626 L 1671.4,2611.2 L 1638.5,2591.4 L 1582.4,2568.4 Z" fill="#9CA09C" stroke="#333" stroke-width="1.2" stroke-linejoin="round" stroke-linecap="round" />
<polygon points="1588.4,2522.2 1638.5,2535.4 1638.5,2581.5 1588.4,2571.6" fill="#8C908C" stroke="#333" stroke-width="1.2" stroke-linejoin="round" />
<path d="M 1597.3,2528.8 L 1597.3,2570 M 1603.8,2530.4 L 1603.8,2571.6" fill="none" stroke="#333" stroke-width="1.6" stroke-linejoin="round" stroke-linecap="round" />
<path d="M 1658.2,2500.8 L 1711,2517.3 C 1730.8,2527.1 1745.6,2545.3 1748.9,2565.1 C 1750.5,2578.2 1747.3,2588.1 1744,2593.1 L 1697.8,2609.6 L 1664.8,2624.4 C 1645.1,2621.1 1628.6,2601.3 1626.9,2574.9 C 1626.9,2558.5 1631.9,2545.3 1641.8,2535.4 Z" fill="url(#cl500)" stroke="#333" stroke-width="1.2" stroke-linejoin="round" stroke-linecap="round" />
<path d="M 1580.1,2504.1 L 1580.1,2517.3 C 1582.4,2528.8 1608.8,2535.4 1625.3,2534.7 C 1645.1,2532.7 1661.5,2525.5 1663.2,2515.6 L 1663.2,2504.1 Z" fill="#8F938F" stroke="#333" stroke-width="1.2" stroke-linejoin="round" stroke-linecap="round" />
<ellipse cx="1621.3" cy="2504.1" rx="41.54" ry="17.14" fill="#AEB2AE" stroke="#333" stroke-width="1.2" />
<path d="M 1600.5,2500.8 L 1612.1,2499.1 L 1613.7,2495.8 L 1630.2,2495.8 L 1631.9,2499.1 L 1643.4,2500.8 L 1641.8,2509 L 1631.2,2510.7 L 1630.2,2513 L 1613.7,2513 L 1612.1,2510.7 L 1601.5,2509 Z" fill="#7A7E7A" stroke="#3a3a3a" stroke-width="1.1" stroke-linejoin="round" stroke-linecap="round" />
<ellipse cx="1657.6" cy="2579.9" rx="30.33" ry="41.21" fill="#9DA19D" stroke="#333" stroke-width="1.3" transform="rotate(-10 1657.6 2579.9)" />
<ellipse cx="1657.6" cy="2579.9" rx="26.37" ry="36.26" fill="#B5B9B5" stroke="#444" stroke-width="1.1" transform="rotate(-10 1657.6 2579.9)" />
<ellipse cx="1658.2" cy="2580.5" rx="21.76" ry="30.99" fill="#0F5FD2" stroke="#223" stroke-width="1.2" transform="rotate(-10 1658.2 2580.5)" />
<path d="M 1641.8,2574.9 C 1648.4,2565.1 1664.8,2565.1 1674.7,2578.2 L 1673.1,2591.4 C 1664.8,2601.3 1651.6,2598 1643.4,2588.1 Z" fill="#083F96" stroke="#223" stroke-width="1.1" stroke-linejoin="round" stroke-linecap="round" />
<path d="M 1580.8,2741.4 L 1584.1,2757.9 L 1631.9,2781 L 1664.8,2795.8 L 1671.4,2781 L 1638.5,2761.2 L 1582.4,2738.1 Z" fill="#9CA09C" stroke="#333" stroke-width="1.2" stroke-linejoin="round" stroke-linecap="round" />
<polygon points="1588.4,2692 1638.5,2705.2 1638.5,2751.3 1588.4,2741.4" fill="#8C908C" stroke="#333" stroke-width="1.2" stroke-linejoin="round" />
<path d="M 1597.3,2698.6 L 1597.3,2739.8 M 1603.8,2700.2 L 1603.8,2741.4" fill="none" stroke="#333" stroke-width="1.6" stroke-linejoin="round" stroke-linecap="round" />
<path d="M 1658.2,2670.5 L 1711,2687 C 1730.8,2696.9 1745.6,2715.1 1748.9,2734.8 C 1750.5,2748 1747.3,2757.9 1744,2762.9 L 1697.8,2779.3 L 1664.8,2794.2 C 1645.1,2790.9 1628.6,2771.1 1626.9,2744.7 C 1626.9,2728.2 1631.9,2715.1 1641.8,2705.2 Z" fill="url(#cl1015)" stroke="#333" stroke-width="1.2" stroke-linejoin="round" stroke-linecap="round" />
<path d="M 1580.1,2673.8 L 1580.1,2687 C 1582.4,2698.6 1608.8,2705.2 1625.3,2704.5 C 1645.1,2702.5 1661.5,2695.3 1663.2,2685.4 L 1663.2,2673.8 Z" fill="#8F938F" stroke="#333" stroke-width="1.2" stroke-linejoin="round" stroke-linecap="round" />
<ellipse cx="1621.3" cy="2673.8" rx="41.54" ry="17.14" fill="#AEB2AE" stroke="#333" stroke-width="1.2" />
<path d="M 1600.5,2670.5 L 1612.1,2668.9 L 1613.7,2665.6 L 1630.2,2665.6 L 1631.9,2668.9 L 1643.4,2670.5 L 1641.8,2678.8 L 1631.2,2680.4 L 1630.2,2682.7 L 1613.7,2682.7 L 1612.1,2680.4 L 1601.5,2678.8 Z" fill="#7A7E7A" stroke="#3a3a3a" stroke-width="1.1" stroke-linejoin="round" stroke-linecap="round" />
<ellipse cx="1657.6" cy="2749.7" rx="30.33" ry="41.21" fill="#9DA19D" stroke="#333" stroke-width="1.3" transform="rotate(-10 1657.6 2749.7)" />
<ellipse cx="1657.6" cy="2749.7" rx="26.37" ry="36.26" fill="#B5B9B5" stroke="#444" stroke-width="1.1" transform="rotate(-10 1657.6 2749.7)" />
<ellipse cx="1658.2" cy="2750.3" rx="21.76" ry="30.99" fill="#0F5FD2" stroke="#223" stroke-width="1.2" transform="rotate(-10 1658.2 2750.3)" />
<path d="M 1641.8,2744.7 C 1648.4,2734.8 1664.8,2734.8 1674.7,2748 L 1673.1,2761.2 C 1664.8,2771.1 1651.6,2767.8 1643.4,2757.9 Z" fill="#083F96" stroke="#223" stroke-width="1.1" stroke-linejoin="round" stroke-linecap="round" />
<path d="M806 0 L525 0 L525 1059 Q371 915 162 846 L162 1101 Q272 1137 401 1237.5 Q530 1338 578 1472 L806 1472 Z" fill="#05131D" transform="translate(22.3154,183) scale(0.0844727,-0.0844727)"/>
<text transform="translate(171,252) scale(1,1.04)" font-size="100" fill="#000">3</text>
<text transform="translate(223.6,252) scale(1,0.985)" font-size="100" fill="#000">x</text>
<text transform="translate(402,208) scale(1,1.04)" font-size="100" fill="#000">4</text>
<path d="M806 0 L525 0 L525 1059 Q371 915 162 846 L162 1101 Q272 1137 401 1237.5 Q530 1338 578 1472 L806 1472 Z" fill="#000" transform="translate(169.89,492) scale(0.0488281,-0.0488281)"/>
<text transform="translate(223.9,492) scale(1,0.985)" font-size="100" fill="#000">x</text>
<path d="M806 0 L525 0 L525 1059 Q371 915 162 846 L162 1101 Q272 1137 401 1237.5 Q530 1338 578 1472 L806 1472 Z" fill="#000" transform="translate(169.89,1084) scale(0.0488281,-0.0488281)"/>
<text transform="translate(223.9,1084) scale(1,0.985)" font-size="100" fill="#000">x</text>
<path d="M806 0 L525 0 L525 1059 Q371 915 162 846 L162 1101 Q272 1137 401 1237.5 Q530 1338 578 1472 L806 1472 Z" fill="#000" transform="translate(861.99,1084) scale(0.0488281,-0.0488281)"/>
<text transform="translate(915.9,1084) scale(1,0.985)" font-size="100" fill="#000">x</text>
<text transform="translate(1159,775) scale(1,1.04)" font-size="100" fill="#000">5</text>
<path d="M806 0 L525 0 L525 1059 Q371 915 162 846 L162 1101 Q272 1137 401 1237.5 Q530 1338 578 1472 L806 1472 Z" fill="#05131D" transform="translate(1371.29,650) scale(0.0488281,-0.0488281)"/>
<text transform="translate(1372,1915) scale(1,1.04)" font-size="100" fill="#05131D">2</text>
<text transform="translate(1482.5,814.5) scale(1,1.04)" font-size="100" fill="#000">3</text>
<text transform="translate(1535.1,814.5) scale(1,0.985)" font-size="100" fill="#000">x</text>
<text transform="translate(1927,702) scale(1,1.04)" font-size="100" fill="#000">7</text>
<path d="M806 0 L525 0 L525 1059 Q371 915 162 846 L162 1101 Q272 1137 401 1237.5 Q530 1338 578 1472 L806 1472 Z" fill="#000" transform="translate(1480.09,1090) scale(0.0488281,-0.0488281)"/>
<text transform="translate(1534,1090) scale(1,0.985)" font-size="100" fill="#000">x</text>
<path d="M806 0 L525 0 L525 1059 Q371 915 162 846 L162 1101 Q272 1137 401 1237.5 Q530 1338 578 1472 L806 1472 Z" fill="#000" transform="translate(1824.09,1090) scale(0.0488281,-0.0488281)"/>
<text transform="translate(1878,1090) scale(1,0.985)" font-size="100" fill="#000">x</text>
<text transform="translate(1482,2073) scale(1,1.04)" font-size="100" fill="#000">5</text>
<text transform="translate(1534.6,2073) scale(1,0.985)" font-size="100" fill="#000">x</text>
<path d="M806 0 L525 0 L525 1059 Q371 915 162 846 L162 1101 Q272 1137 401 1237.5 Q530 1338 578 1472 L806 1472 Z" fill="#05131D" transform="translate(2491.4,3264) scale(0.0327148,-0.0327148)"/>
</svg>
</body></html>
